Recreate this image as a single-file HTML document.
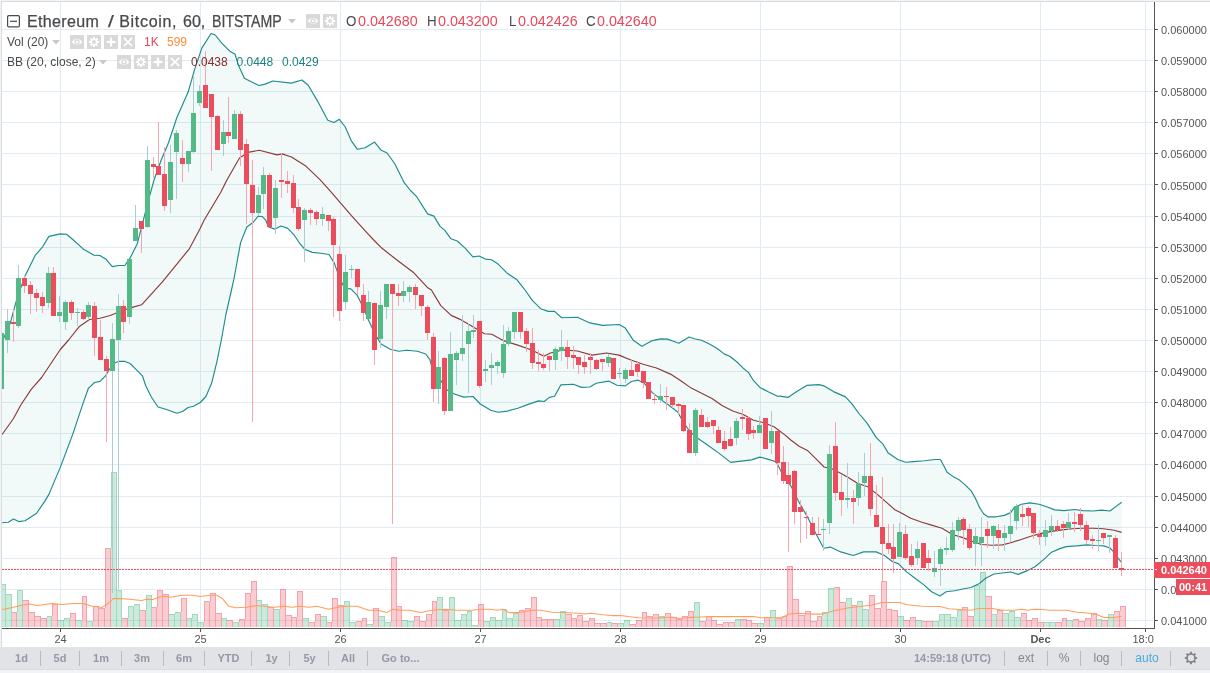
<!DOCTYPE html>
<html><head><meta charset="utf-8"><title>Ethereum / Bitcoin</title>
<style>
html,body{margin:0;padding:0;background:#fff;}
body{width:1210px;height:673px;position:relative;overflow:hidden;font-family:"Liberation Sans",Arial,sans-serif;}
.t{position:absolute;white-space:nowrap;line-height:1;}
.bar{position:absolute;left:0;top:647px;width:1210px;height:22px;background:#e2e3e6;border-bottom:1px solid #d9dce0;}
.bb{position:absolute;left:0;top:670px;width:1210px;height:3px;background:#f1f3f7;}
.btn{position:absolute;top:652px;font-size:11px;font-weight:bold;color:#9797a6;white-space:nowrap;line-height:13px;}
.rg{font-size:12px;font-weight:normal;color:#84848f;top:652px;}
.sep{position:absolute;top:651px;width:1px;height:15px;background:#b9bac2;}
</style></head><body>

<svg width="1210" height="673" viewBox="0 0 1210 673" style="position:absolute;left:0;top:0">
<g shape-rendering="crispEdges" stroke="#e1ecf2" stroke-width="1">
<line x1="2" x2="1153" y1="29.5" y2="29.5"/>
<line x1="2" x2="1153" y1="60.5" y2="60.5"/>
<line x1="2" x2="1153" y1="91.5" y2="91.5"/>
<line x1="2" x2="1153" y1="122.5" y2="122.5"/>
<line x1="2" x2="1153" y1="153.5" y2="153.5"/>
<line x1="2" x2="1153" y1="184.5" y2="184.5"/>
<line x1="2" x2="1153" y1="216.5" y2="216.5"/>
<line x1="2" x2="1153" y1="247.5" y2="247.5"/>
<line x1="2" x2="1153" y1="278.5" y2="278.5"/>
<line x1="2" x2="1153" y1="309.5" y2="309.5"/>
<line x1="2" x2="1153" y1="340.5" y2="340.5"/>
<line x1="2" x2="1153" y1="371.5" y2="371.5"/>
<line x1="2" x2="1153" y1="402.5" y2="402.5"/>
<line x1="2" x2="1153" y1="433.5" y2="433.5"/>
<line x1="2" x2="1153" y1="464.5" y2="464.5"/>
<line x1="2" x2="1153" y1="496.5" y2="496.5"/>
<line x1="2" x2="1153" y1="527.5" y2="527.5"/>
<line x1="2" x2="1153" y1="558.5" y2="558.5"/>
<line x1="2" x2="1153" y1="589.5" y2="589.5"/>
<line x1="2" x2="1153" y1="620.5" y2="620.5"/>
<line x1="60.5" x2="60.5" y1="2" y2="627"/>
<line x1="200.5" x2="200.5" y1="2" y2="627"/>
<line x1="340.5" x2="340.5" y1="2" y2="627"/>
<line x1="480.5" x2="480.5" y1="2" y2="627"/>
<line x1="620.5" x2="620.5" y1="2" y2="627"/>
<line x1="760.5" x2="760.5" y1="2" y2="627"/>
<line x1="900.5" x2="900.5" y1="2" y2="627"/>
<line x1="1040.5" x2="1040.5" y1="2" y2="627"/>
<line x1="1145.5" x2="1145.5" y1="2" y2="627"/>
</g>
<polygon points="2.0,342.0 10.4,322.7 16.6,299.9 25.0,275.9 35.4,255.1 42.6,246.8 48.9,236.4 60.3,233.9 66.6,234.3 72.8,239.5 83.2,248.9 93.6,255.1 99.9,255.5 106.1,259.3 112.3,266.6 118.6,265.5 124.8,265.5 130.0,258.2 137.3,243.7 148.3,200.8 154.0,180.0 161.2,160.0 168.5,142.7 176.8,117.8 188.2,91.8 194.5,69.9 201.8,48.1 211.1,33.5 215.3,35.0 221.5,42.9 229.9,51.2 235.1,54.3 238.2,64.7 244.4,78.2 252.7,82.4 259.0,85.5 265.2,84.1 272.8,81.0 291.5,83.1 301.9,80.0 308.2,85.2 318.6,102.9 327.8,120.3 334.0,122.5 339.3,119.3 345.0,126.5 351.2,140.6 357.4,149.3 365.2,147.7 374.6,142.1 380.8,149.9 387.1,153.0 394.9,164.0 404.2,182.7 410.5,190.5 416.7,196.7 427.6,213.9 433.9,216.1 440.1,226.4 444.8,230.4 451.0,238.8 457.3,241.0 465.1,248.2 472.9,256.9 479.1,256.0 485.4,259.1 491.6,259.8 497.8,263.8 507.2,273.2 516.6,279.4 522.8,287.2 525.0,290.0 532.3,300.4 540.7,308.7 548.3,311.4 554.6,311.4 561.8,317.7 577.4,317.3 589.9,322.9 602.4,325.4 619.0,324.5 625.3,328.1 633.6,340.6 641.9,346.2 652.3,340.6 660.7,338.9 667.3,339.1 673.5,341.2 678.7,343.3 683.9,340.2 689.1,337.0 694.3,338.7 701.6,340.2 708.9,343.7 717.2,348.5 724.5,354.1 729.7,356.2 737.0,362.0 743.2,368.2 748.4,372.4 753.6,380.7 759.9,387.4 768.2,391.8 777.5,396.3 780.0,396.1 788.0,397.4 796.0,392.1 806.7,385.4 818.8,384.6 824.1,385.9 833.5,391.6 845.5,396.9 852.2,404.1 858.9,413.5 866.9,422.9 876.3,437.6 883.0,444.2 888.3,453.1 897.7,459.5 905.7,462.2 913.7,461.6 924.4,460.8 935.1,459.5 940.5,459.5 947.2,472.3 953.9,477.1 958.6,479.4 964.9,484.6 971.1,490.8 975.3,498.1 979.5,507.4 983.6,513.7 987.8,516.8 996.1,516.8 1004.4,515.4 1010.7,512.6 1014.2,507.4 1021.4,504.3 1029.8,502.9 1039.1,504.3 1047.4,507.0 1054.7,509.9 1064.1,510.6 1074.5,509.5 1082.8,510.6 1093.2,511.0 1101.5,510.1 1109.9,511.0 1116.1,506.4 1121.7,502.2 1121.7,562.6 1118.2,558.4 1114.0,552.2 1109.9,548.0 1103.6,545.9 1095.3,545.5 1087.0,544.9 1076.6,545.9 1066.2,546.6 1059.9,548.6 1051.6,552.2 1043.3,559.9 1035.0,566.7 1026.6,570.9 1018.3,574.4 1010.7,572.0 1002.3,573.0 994.0,574.0 985.7,578.2 979.5,583.4 971.1,587.5 962.8,589.0 954.5,590.7 946.2,591.7 939.9,595.9 931.6,591.7 923.3,584.4 915.0,578.2 906.6,571.9 898.3,563.6 892.7,561.7 884.4,555.5 876.1,551.9 863.6,551.9 853.2,555.5 840.7,551.9 830.3,547.1 823.7,548.2 815.8,533.6 807.4,517.0 799.1,502.4 790.8,485.8 782.5,474.3 776.2,461.8 768.2,459.4 759.9,457.1 751.5,459.9 743.2,460.9 730.7,462.4 718.2,452.6 707.8,445.3 697.4,438.0 689.1,430.7 682.9,421.4 677.7,412.0 668.3,404.7 662.7,400.9 652.3,392.6 644.0,383.2 637.8,380.1 631.5,381.5 625.3,385.9 617.0,385.3 608.6,381.1 596.2,383.2 589.9,387.0 581.6,387.4 573.3,384.3 560.8,384.9 554.6,396.3 549.4,397.4 544.2,401.5 538.6,400.9 528.2,404.4 517.8,408.2 507.4,411.1 498.0,412.3 490.7,410.2 480.3,404.0 473.0,396.5 463.7,397.1 454.3,394.0 447.0,389.9 438.7,377.4 431.4,365.3 429.9,359.6 425.7,354.0 417.4,351.3 407.0,350.3 398.6,351.3 390.3,349.2 381.0,344.0 374.7,333.6 368.5,320.1 363.3,307.6 357.0,295.1 350.8,288.9 344.6,288.3 339.4,277.4 334.2,262.9 329.0,254.5 320.7,253.3 312.3,252.4 305.1,249.5 299.9,243.7 293.6,234.3 287.4,228.1 281.1,226.0 274.9,229.1 268.6,227.0 265.5,219.8 262.4,216.6 258.2,216.2 253.0,222.5 246.8,227.0 240.6,242.6 234.3,277.0 231.5,290.0 225.9,314.5 221.5,339.0 217.0,361.3 211.5,383.6 205.9,396.5 200.3,402.5 193.6,406.3 188.1,407.5 182.5,411.5 176.9,413.2 165.8,409.2 158.0,407.0 151.3,397.0 145.7,385.8 142.4,375.8 135.7,369.1 130.1,363.5 124.5,361.3 119.0,361.3 113.4,363.5 108.9,370.2 105.6,375.8 100.0,381.4 94.5,382.5 90.0,386.9 88.4,388.3 83.2,402.9 72.8,434.1 60.3,467.4 48.9,494.4 44.7,501.4 36.4,513.5 25.0,520.8 18.7,521.6 13.5,519.1 8.3,522.2 2.1,522.7" fill="rgba(0,128,128,0.05)"/>
<g shape-rendering="crispEdges">
<rect x="2" y="584" width="4" height="1" fill="rgba(83,185,135,0.55)"/>
<rect x="5" y="585" width="1" height="42" fill="rgba(83,185,135,0.55)"/>
<rect x="2" y="585" width="3" height="42" fill="rgba(83,185,135,0.30)"/>
<rect x="6" y="594" width="6" height="1" fill="rgba(83,185,135,0.55)"/>
<rect x="11" y="595" width="1" height="32" fill="rgba(83,185,135,0.55)"/>
<rect x="6" y="595" width="5" height="32" fill="rgba(83,185,135,0.30)"/>
<rect x="12" y="612" width="5" height="1" fill="rgba(235,77,92,0.52)"/>
<rect x="16" y="613" width="1" height="14" fill="rgba(235,77,92,0.52)"/>
<rect x="12" y="613" width="4" height="14" fill="rgba(235,77,92,0.28)"/>
<rect x="17" y="590" width="6" height="1" fill="rgba(83,185,135,0.55)"/>
<rect x="22" y="591" width="1" height="36" fill="rgba(83,185,135,0.55)"/>
<rect x="17" y="591" width="1" height="21" fill="rgba(83,185,135,0.55)"/>
<rect x="18" y="591" width="4" height="36" fill="rgba(83,185,135,0.30)"/>
<rect x="17" y="612" width="1" height="15" fill="rgba(83,185,135,0.30)"/>
<rect x="23" y="600" width="6" height="1" fill="rgba(235,77,92,0.52)"/>
<rect x="28" y="601" width="1" height="26" fill="rgba(235,77,92,0.52)"/>
<rect x="23" y="601" width="5" height="26" fill="rgba(235,77,92,0.28)"/>
<rect x="29" y="612" width="6" height="1" fill="rgba(235,77,92,0.52)"/>
<rect x="34" y="613" width="1" height="14" fill="rgba(235,77,92,0.52)"/>
<rect x="29" y="613" width="5" height="14" fill="rgba(235,77,92,0.28)"/>
<rect x="35" y="616" width="6" height="1" fill="rgba(235,77,92,0.52)"/>
<rect x="40" y="617" width="1" height="10" fill="rgba(235,77,92,0.52)"/>
<rect x="35" y="617" width="5" height="10" fill="rgba(235,77,92,0.28)"/>
<rect x="41" y="618" width="6" height="1" fill="rgba(235,77,92,0.52)"/>
<rect x="46" y="619" width="1" height="8" fill="rgba(235,77,92,0.52)"/>
<rect x="41" y="619" width="5" height="8" fill="rgba(235,77,92,0.28)"/>
<rect x="47" y="616" width="5" height="1" fill="rgba(83,185,135,0.55)"/>
<rect x="51" y="617" width="1" height="10" fill="rgba(83,185,135,0.55)"/>
<rect x="47" y="617" width="1" height="1" fill="rgba(83,185,135,0.55)"/>
<rect x="48" y="617" width="3" height="10" fill="rgba(83,185,135,0.30)"/>
<rect x="47" y="618" width="1" height="9" fill="rgba(83,185,135,0.30)"/>
<rect x="52" y="604" width="6" height="1" fill="rgba(235,77,92,0.52)"/>
<rect x="57" y="605" width="1" height="22" fill="rgba(235,77,92,0.52)"/>
<rect x="52" y="605" width="1" height="11" fill="rgba(235,77,92,0.52)"/>
<rect x="53" y="605" width="4" height="22" fill="rgba(235,77,92,0.28)"/>
<rect x="52" y="616" width="1" height="11" fill="rgba(235,77,92,0.28)"/>
<rect x="58" y="620" width="6" height="1" fill="rgba(83,185,135,0.55)"/>
<rect x="63" y="621" width="1" height="6" fill="rgba(83,185,135,0.55)"/>
<rect x="58" y="621" width="5" height="6" fill="rgba(83,185,135,0.30)"/>
<rect x="64" y="618" width="6" height="1" fill="rgba(83,185,135,0.55)"/>
<rect x="69" y="619" width="1" height="8" fill="rgba(83,185,135,0.55)"/>
<rect x="64" y="619" width="1" height="1" fill="rgba(83,185,135,0.55)"/>
<rect x="65" y="619" width="4" height="8" fill="rgba(83,185,135,0.30)"/>
<rect x="64" y="620" width="1" height="7" fill="rgba(83,185,135,0.30)"/>
<rect x="70" y="613" width="6" height="1" fill="rgba(235,77,92,0.52)"/>
<rect x="75" y="614" width="1" height="13" fill="rgba(235,77,92,0.52)"/>
<rect x="70" y="614" width="1" height="4" fill="rgba(235,77,92,0.52)"/>
<rect x="71" y="614" width="4" height="13" fill="rgba(235,77,92,0.28)"/>
<rect x="70" y="618" width="1" height="9" fill="rgba(235,77,92,0.28)"/>
<rect x="76" y="620" width="6" height="1" fill="rgba(83,185,135,0.55)"/>
<rect x="81" y="621" width="1" height="6" fill="rgba(83,185,135,0.55)"/>
<rect x="76" y="621" width="5" height="6" fill="rgba(83,185,135,0.30)"/>
<rect x="82" y="596" width="5" height="1" fill="rgba(235,77,92,0.52)"/>
<rect x="86" y="597" width="1" height="30" fill="rgba(235,77,92,0.52)"/>
<rect x="82" y="597" width="1" height="23" fill="rgba(235,77,92,0.52)"/>
<rect x="83" y="597" width="3" height="30" fill="rgba(235,77,92,0.28)"/>
<rect x="82" y="620" width="1" height="7" fill="rgba(235,77,92,0.28)"/>
<rect x="87" y="621" width="6" height="1" fill="rgba(83,185,135,0.55)"/>
<rect x="92" y="622" width="1" height="5" fill="rgba(83,185,135,0.55)"/>
<rect x="87" y="622" width="5" height="5" fill="rgba(83,185,135,0.30)"/>
<rect x="93" y="606" width="6" height="1" fill="rgba(235,77,92,0.52)"/>
<rect x="98" y="607" width="1" height="20" fill="rgba(235,77,92,0.52)"/>
<rect x="93" y="607" width="1" height="14" fill="rgba(235,77,92,0.52)"/>
<rect x="94" y="607" width="4" height="20" fill="rgba(235,77,92,0.28)"/>
<rect x="93" y="621" width="1" height="6" fill="rgba(235,77,92,0.28)"/>
<rect x="99" y="608" width="6" height="1" fill="rgba(235,77,92,0.52)"/>
<rect x="104" y="609" width="1" height="18" fill="rgba(235,77,92,0.52)"/>
<rect x="99" y="609" width="5" height="18" fill="rgba(235,77,92,0.28)"/>
<rect x="105" y="548" width="6" height="1" fill="rgba(235,77,92,0.52)"/>
<rect x="110" y="549" width="1" height="78" fill="rgba(235,77,92,0.52)"/>
<rect x="105" y="549" width="1" height="59" fill="rgba(235,77,92,0.52)"/>
<rect x="106" y="549" width="4" height="78" fill="rgba(235,77,92,0.28)"/>
<rect x="105" y="608" width="1" height="19" fill="rgba(235,77,92,0.28)"/>
<rect x="111" y="472" width="6" height="1" fill="rgba(83,185,135,0.55)"/>
<rect x="116" y="473" width="1" height="154" fill="rgba(83,185,135,0.55)"/>
<rect x="111" y="473" width="1" height="75" fill="rgba(83,185,135,0.55)"/>
<rect x="112" y="473" width="4" height="154" fill="rgba(83,185,135,0.30)"/>
<rect x="111" y="548" width="1" height="79" fill="rgba(83,185,135,0.30)"/>
<rect x="117" y="590" width="5" height="1" fill="rgba(83,185,135,0.55)"/>
<rect x="121" y="591" width="1" height="36" fill="rgba(83,185,135,0.55)"/>
<rect x="117" y="591" width="4" height="36" fill="rgba(83,185,135,0.30)"/>
<rect x="122" y="618" width="6" height="1" fill="rgba(235,77,92,0.52)"/>
<rect x="127" y="619" width="1" height="8" fill="rgba(235,77,92,0.52)"/>
<rect x="122" y="619" width="5" height="8" fill="rgba(235,77,92,0.28)"/>
<rect x="128" y="606" width="6" height="1" fill="rgba(83,185,135,0.55)"/>
<rect x="133" y="607" width="1" height="20" fill="rgba(83,185,135,0.55)"/>
<rect x="128" y="607" width="1" height="11" fill="rgba(83,185,135,0.55)"/>
<rect x="129" y="607" width="4" height="20" fill="rgba(83,185,135,0.30)"/>
<rect x="128" y="618" width="1" height="9" fill="rgba(83,185,135,0.30)"/>
<rect x="134" y="604" width="6" height="1" fill="rgba(83,185,135,0.55)"/>
<rect x="139" y="605" width="1" height="22" fill="rgba(83,185,135,0.55)"/>
<rect x="134" y="605" width="1" height="1" fill="rgba(83,185,135,0.55)"/>
<rect x="135" y="605" width="4" height="22" fill="rgba(83,185,135,0.30)"/>
<rect x="134" y="606" width="1" height="21" fill="rgba(83,185,135,0.30)"/>
<rect x="140" y="610" width="6" height="1" fill="rgba(235,77,92,0.52)"/>
<rect x="145" y="611" width="1" height="16" fill="rgba(235,77,92,0.52)"/>
<rect x="140" y="611" width="5" height="16" fill="rgba(235,77,92,0.28)"/>
<rect x="146" y="595" width="6" height="1" fill="rgba(83,185,135,0.55)"/>
<rect x="151" y="596" width="1" height="31" fill="rgba(83,185,135,0.55)"/>
<rect x="146" y="596" width="1" height="14" fill="rgba(83,185,135,0.55)"/>
<rect x="147" y="596" width="4" height="31" fill="rgba(83,185,135,0.30)"/>
<rect x="146" y="610" width="1" height="17" fill="rgba(83,185,135,0.30)"/>
<rect x="152" y="607" width="5" height="1" fill="rgba(235,77,92,0.52)"/>
<rect x="156" y="608" width="1" height="19" fill="rgba(235,77,92,0.52)"/>
<rect x="152" y="608" width="4" height="19" fill="rgba(235,77,92,0.28)"/>
<rect x="157" y="590" width="6" height="1" fill="rgba(235,77,92,0.52)"/>
<rect x="162" y="591" width="1" height="36" fill="rgba(235,77,92,0.52)"/>
<rect x="157" y="591" width="1" height="16" fill="rgba(235,77,92,0.52)"/>
<rect x="158" y="591" width="4" height="36" fill="rgba(235,77,92,0.28)"/>
<rect x="157" y="607" width="1" height="20" fill="rgba(235,77,92,0.28)"/>
<rect x="163" y="594" width="6" height="1" fill="rgba(235,77,92,0.52)"/>
<rect x="168" y="595" width="1" height="32" fill="rgba(235,77,92,0.52)"/>
<rect x="163" y="595" width="5" height="32" fill="rgba(235,77,92,0.28)"/>
<rect x="169" y="614" width="6" height="1" fill="rgba(83,185,135,0.55)"/>
<rect x="174" y="615" width="1" height="12" fill="rgba(83,185,135,0.55)"/>
<rect x="169" y="615" width="5" height="12" fill="rgba(83,185,135,0.30)"/>
<rect x="175" y="612" width="6" height="1" fill="rgba(83,185,135,0.55)"/>
<rect x="180" y="613" width="1" height="14" fill="rgba(83,185,135,0.55)"/>
<rect x="175" y="613" width="1" height="1" fill="rgba(83,185,135,0.55)"/>
<rect x="176" y="613" width="4" height="14" fill="rgba(83,185,135,0.30)"/>
<rect x="175" y="614" width="1" height="13" fill="rgba(83,185,135,0.30)"/>
<rect x="181" y="598" width="6" height="1" fill="rgba(235,77,92,0.52)"/>
<rect x="186" y="599" width="1" height="28" fill="rgba(235,77,92,0.52)"/>
<rect x="181" y="599" width="1" height="13" fill="rgba(235,77,92,0.52)"/>
<rect x="182" y="599" width="4" height="28" fill="rgba(235,77,92,0.28)"/>
<rect x="181" y="612" width="1" height="15" fill="rgba(235,77,92,0.28)"/>
<rect x="187" y="618" width="5" height="1" fill="rgba(83,185,135,0.55)"/>
<rect x="191" y="619" width="1" height="8" fill="rgba(83,185,135,0.55)"/>
<rect x="187" y="619" width="4" height="8" fill="rgba(83,185,135,0.30)"/>
<rect x="192" y="614" width="6" height="1" fill="rgba(83,185,135,0.55)"/>
<rect x="197" y="615" width="1" height="12" fill="rgba(83,185,135,0.55)"/>
<rect x="192" y="615" width="1" height="3" fill="rgba(83,185,135,0.55)"/>
<rect x="193" y="615" width="4" height="12" fill="rgba(83,185,135,0.30)"/>
<rect x="192" y="618" width="1" height="9" fill="rgba(83,185,135,0.30)"/>
<rect x="198" y="622" width="6" height="1" fill="rgba(83,185,135,0.55)"/>
<rect x="203" y="623" width="1" height="4" fill="rgba(83,185,135,0.55)"/>
<rect x="198" y="623" width="5" height="4" fill="rgba(83,185,135,0.30)"/>
<rect x="204" y="601" width="6" height="1" fill="rgba(235,77,92,0.52)"/>
<rect x="209" y="602" width="1" height="25" fill="rgba(235,77,92,0.52)"/>
<rect x="204" y="602" width="1" height="20" fill="rgba(235,77,92,0.52)"/>
<rect x="205" y="602" width="4" height="25" fill="rgba(235,77,92,0.28)"/>
<rect x="204" y="622" width="1" height="5" fill="rgba(235,77,92,0.28)"/>
<rect x="210" y="593" width="6" height="1" fill="rgba(235,77,92,0.52)"/>
<rect x="215" y="594" width="1" height="33" fill="rgba(235,77,92,0.52)"/>
<rect x="210" y="594" width="1" height="7" fill="rgba(235,77,92,0.52)"/>
<rect x="211" y="594" width="4" height="33" fill="rgba(235,77,92,0.28)"/>
<rect x="210" y="601" width="1" height="26" fill="rgba(235,77,92,0.28)"/>
<rect x="216" y="613" width="6" height="1" fill="rgba(235,77,92,0.52)"/>
<rect x="221" y="614" width="1" height="13" fill="rgba(235,77,92,0.52)"/>
<rect x="216" y="614" width="5" height="13" fill="rgba(235,77,92,0.28)"/>
<rect x="222" y="618" width="5" height="1" fill="rgba(83,185,135,0.55)"/>
<rect x="226" y="619" width="1" height="8" fill="rgba(83,185,135,0.55)"/>
<rect x="222" y="619" width="4" height="8" fill="rgba(83,185,135,0.30)"/>
<rect x="227" y="620" width="6" height="1" fill="rgba(235,77,92,0.52)"/>
<rect x="232" y="621" width="1" height="6" fill="rgba(235,77,92,0.52)"/>
<rect x="227" y="621" width="5" height="6" fill="rgba(235,77,92,0.28)"/>
<rect x="233" y="622" width="6" height="1" fill="rgba(83,185,135,0.55)"/>
<rect x="238" y="623" width="1" height="4" fill="rgba(83,185,135,0.55)"/>
<rect x="233" y="623" width="5" height="4" fill="rgba(83,185,135,0.30)"/>
<rect x="239" y="619" width="6" height="1" fill="rgba(235,77,92,0.52)"/>
<rect x="244" y="620" width="1" height="7" fill="rgba(235,77,92,0.52)"/>
<rect x="239" y="620" width="1" height="2" fill="rgba(235,77,92,0.52)"/>
<rect x="240" y="620" width="4" height="7" fill="rgba(235,77,92,0.28)"/>
<rect x="239" y="622" width="1" height="5" fill="rgba(235,77,92,0.28)"/>
<rect x="245" y="593" width="6" height="1" fill="rgba(235,77,92,0.52)"/>
<rect x="250" y="594" width="1" height="33" fill="rgba(235,77,92,0.52)"/>
<rect x="245" y="594" width="1" height="25" fill="rgba(235,77,92,0.52)"/>
<rect x="246" y="594" width="4" height="33" fill="rgba(235,77,92,0.28)"/>
<rect x="245" y="619" width="1" height="8" fill="rgba(235,77,92,0.28)"/>
<rect x="251" y="581" width="6" height="1" fill="rgba(235,77,92,0.52)"/>
<rect x="256" y="582" width="1" height="45" fill="rgba(235,77,92,0.52)"/>
<rect x="251" y="582" width="1" height="11" fill="rgba(235,77,92,0.52)"/>
<rect x="252" y="582" width="4" height="45" fill="rgba(235,77,92,0.28)"/>
<rect x="251" y="593" width="1" height="34" fill="rgba(235,77,92,0.28)"/>
<rect x="257" y="600" width="5" height="1" fill="rgba(83,185,135,0.55)"/>
<rect x="261" y="601" width="1" height="26" fill="rgba(83,185,135,0.55)"/>
<rect x="257" y="601" width="4" height="26" fill="rgba(83,185,135,0.30)"/>
<rect x="262" y="604" width="6" height="1" fill="rgba(83,185,135,0.55)"/>
<rect x="267" y="605" width="1" height="22" fill="rgba(83,185,135,0.55)"/>
<rect x="262" y="605" width="5" height="22" fill="rgba(83,185,135,0.30)"/>
<rect x="268" y="607" width="6" height="1" fill="rgba(235,77,92,0.52)"/>
<rect x="273" y="608" width="1" height="19" fill="rgba(235,77,92,0.52)"/>
<rect x="268" y="608" width="5" height="19" fill="rgba(235,77,92,0.28)"/>
<rect x="274" y="609" width="6" height="1" fill="rgba(83,185,135,0.55)"/>
<rect x="279" y="610" width="1" height="17" fill="rgba(83,185,135,0.55)"/>
<rect x="274" y="610" width="5" height="17" fill="rgba(83,185,135,0.30)"/>
<rect x="280" y="589" width="6" height="1" fill="rgba(235,77,92,0.52)"/>
<rect x="285" y="590" width="1" height="37" fill="rgba(235,77,92,0.52)"/>
<rect x="280" y="590" width="1" height="19" fill="rgba(235,77,92,0.52)"/>
<rect x="281" y="590" width="4" height="37" fill="rgba(235,77,92,0.28)"/>
<rect x="280" y="609" width="1" height="18" fill="rgba(235,77,92,0.28)"/>
<rect x="286" y="615" width="6" height="1" fill="rgba(235,77,92,0.52)"/>
<rect x="291" y="616" width="1" height="11" fill="rgba(235,77,92,0.52)"/>
<rect x="286" y="616" width="5" height="11" fill="rgba(235,77,92,0.28)"/>
<rect x="292" y="617" width="5" height="1" fill="rgba(235,77,92,0.52)"/>
<rect x="296" y="618" width="1" height="9" fill="rgba(235,77,92,0.52)"/>
<rect x="292" y="618" width="4" height="9" fill="rgba(235,77,92,0.28)"/>
<rect x="297" y="591" width="6" height="1" fill="rgba(235,77,92,0.52)"/>
<rect x="302" y="592" width="1" height="35" fill="rgba(235,77,92,0.52)"/>
<rect x="297" y="592" width="1" height="25" fill="rgba(235,77,92,0.52)"/>
<rect x="298" y="592" width="4" height="35" fill="rgba(235,77,92,0.28)"/>
<rect x="297" y="617" width="1" height="10" fill="rgba(235,77,92,0.28)"/>
<rect x="303" y="618" width="6" height="1" fill="rgba(83,185,135,0.55)"/>
<rect x="308" y="619" width="1" height="8" fill="rgba(83,185,135,0.55)"/>
<rect x="303" y="619" width="5" height="8" fill="rgba(83,185,135,0.30)"/>
<rect x="309" y="622" width="6" height="1" fill="rgba(235,77,92,0.52)"/>
<rect x="314" y="623" width="1" height="4" fill="rgba(235,77,92,0.52)"/>
<rect x="309" y="623" width="5" height="4" fill="rgba(235,77,92,0.28)"/>
<rect x="315" y="614" width="6" height="1" fill="rgba(235,77,92,0.52)"/>
<rect x="320" y="615" width="1" height="12" fill="rgba(235,77,92,0.52)"/>
<rect x="315" y="615" width="1" height="7" fill="rgba(235,77,92,0.52)"/>
<rect x="316" y="615" width="4" height="12" fill="rgba(235,77,92,0.28)"/>
<rect x="315" y="622" width="1" height="5" fill="rgba(235,77,92,0.28)"/>
<rect x="321" y="616" width="6" height="1" fill="rgba(83,185,135,0.55)"/>
<rect x="326" y="617" width="1" height="10" fill="rgba(83,185,135,0.55)"/>
<rect x="321" y="617" width="5" height="10" fill="rgba(83,185,135,0.30)"/>
<rect x="327" y="622" width="5" height="1" fill="rgba(235,77,92,0.52)"/>
<rect x="331" y="623" width="1" height="4" fill="rgba(235,77,92,0.52)"/>
<rect x="327" y="623" width="4" height="4" fill="rgba(235,77,92,0.28)"/>
<rect x="332" y="598" width="6" height="1" fill="rgba(235,77,92,0.52)"/>
<rect x="337" y="599" width="1" height="28" fill="rgba(235,77,92,0.52)"/>
<rect x="332" y="599" width="1" height="23" fill="rgba(235,77,92,0.52)"/>
<rect x="333" y="599" width="4" height="28" fill="rgba(235,77,92,0.28)"/>
<rect x="332" y="622" width="1" height="5" fill="rgba(235,77,92,0.28)"/>
<rect x="338" y="605" width="6" height="1" fill="rgba(235,77,92,0.52)"/>
<rect x="343" y="606" width="1" height="21" fill="rgba(235,77,92,0.52)"/>
<rect x="338" y="606" width="5" height="21" fill="rgba(235,77,92,0.28)"/>
<rect x="344" y="601" width="6" height="1" fill="rgba(83,185,135,0.55)"/>
<rect x="349" y="602" width="1" height="25" fill="rgba(83,185,135,0.55)"/>
<rect x="344" y="602" width="1" height="3" fill="rgba(83,185,135,0.55)"/>
<rect x="345" y="602" width="4" height="25" fill="rgba(83,185,135,0.30)"/>
<rect x="344" y="605" width="1" height="22" fill="rgba(83,185,135,0.30)"/>
<rect x="350" y="622" width="6" height="1" fill="rgba(83,185,135,0.55)"/>
<rect x="355" y="623" width="1" height="4" fill="rgba(83,185,135,0.55)"/>
<rect x="350" y="623" width="5" height="4" fill="rgba(83,185,135,0.30)"/>
<rect x="356" y="621" width="6" height="1" fill="rgba(235,77,92,0.52)"/>
<rect x="361" y="622" width="1" height="5" fill="rgba(235,77,92,0.52)"/>
<rect x="356" y="622" width="5" height="5" fill="rgba(235,77,92,0.28)"/>
<rect x="362" y="618" width="5" height="1" fill="rgba(235,77,92,0.52)"/>
<rect x="366" y="619" width="1" height="8" fill="rgba(235,77,92,0.52)"/>
<rect x="362" y="619" width="1" height="2" fill="rgba(235,77,92,0.52)"/>
<rect x="363" y="619" width="3" height="8" fill="rgba(235,77,92,0.28)"/>
<rect x="362" y="621" width="1" height="6" fill="rgba(235,77,92,0.28)"/>
<rect x="367" y="624" width="6" height="1" fill="rgba(83,185,135,0.55)"/>
<rect x="372" y="625" width="1" height="2" fill="rgba(83,185,135,0.55)"/>
<rect x="367" y="625" width="5" height="2" fill="rgba(83,185,135,0.30)"/>
<rect x="373" y="608" width="6" height="1" fill="rgba(235,77,92,0.52)"/>
<rect x="378" y="609" width="1" height="18" fill="rgba(235,77,92,0.52)"/>
<rect x="373" y="609" width="1" height="15" fill="rgba(235,77,92,0.52)"/>
<rect x="374" y="609" width="4" height="18" fill="rgba(235,77,92,0.28)"/>
<rect x="373" y="624" width="1" height="3" fill="rgba(235,77,92,0.28)"/>
<rect x="379" y="616" width="6" height="1" fill="rgba(83,185,135,0.55)"/>
<rect x="384" y="617" width="1" height="10" fill="rgba(83,185,135,0.55)"/>
<rect x="379" y="617" width="5" height="10" fill="rgba(83,185,135,0.30)"/>
<rect x="385" y="622" width="6" height="1" fill="rgba(83,185,135,0.55)"/>
<rect x="390" y="623" width="1" height="4" fill="rgba(83,185,135,0.55)"/>
<rect x="385" y="623" width="5" height="4" fill="rgba(83,185,135,0.30)"/>
<rect x="391" y="557" width="6" height="1" fill="rgba(235,77,92,0.52)"/>
<rect x="396" y="558" width="1" height="69" fill="rgba(235,77,92,0.52)"/>
<rect x="391" y="558" width="1" height="64" fill="rgba(235,77,92,0.52)"/>
<rect x="392" y="558" width="4" height="69" fill="rgba(235,77,92,0.28)"/>
<rect x="391" y="622" width="1" height="5" fill="rgba(235,77,92,0.28)"/>
<rect x="397" y="606" width="5" height="1" fill="rgba(235,77,92,0.52)"/>
<rect x="401" y="607" width="1" height="20" fill="rgba(235,77,92,0.52)"/>
<rect x="397" y="607" width="4" height="20" fill="rgba(235,77,92,0.28)"/>
<rect x="402" y="620" width="6" height="1" fill="rgba(83,185,135,0.55)"/>
<rect x="407" y="621" width="1" height="6" fill="rgba(83,185,135,0.55)"/>
<rect x="402" y="621" width="5" height="6" fill="rgba(83,185,135,0.30)"/>
<rect x="408" y="621" width="6" height="1" fill="rgba(83,185,135,0.55)"/>
<rect x="413" y="622" width="1" height="5" fill="rgba(83,185,135,0.55)"/>
<rect x="408" y="622" width="5" height="5" fill="rgba(83,185,135,0.30)"/>
<rect x="414" y="616" width="6" height="1" fill="rgba(235,77,92,0.52)"/>
<rect x="419" y="617" width="1" height="10" fill="rgba(235,77,92,0.52)"/>
<rect x="414" y="617" width="1" height="4" fill="rgba(235,77,92,0.52)"/>
<rect x="415" y="617" width="4" height="10" fill="rgba(235,77,92,0.28)"/>
<rect x="414" y="621" width="1" height="6" fill="rgba(235,77,92,0.28)"/>
<rect x="420" y="621" width="6" height="1" fill="rgba(235,77,92,0.52)"/>
<rect x="425" y="622" width="1" height="5" fill="rgba(235,77,92,0.52)"/>
<rect x="420" y="622" width="5" height="5" fill="rgba(235,77,92,0.28)"/>
<rect x="426" y="614" width="6" height="1" fill="rgba(235,77,92,0.52)"/>
<rect x="431" y="615" width="1" height="12" fill="rgba(235,77,92,0.52)"/>
<rect x="426" y="615" width="1" height="6" fill="rgba(235,77,92,0.52)"/>
<rect x="427" y="615" width="4" height="12" fill="rgba(235,77,92,0.28)"/>
<rect x="426" y="621" width="1" height="6" fill="rgba(235,77,92,0.28)"/>
<rect x="432" y="601" width="5" height="1" fill="rgba(235,77,92,0.52)"/>
<rect x="436" y="602" width="1" height="25" fill="rgba(235,77,92,0.52)"/>
<rect x="432" y="602" width="1" height="12" fill="rgba(235,77,92,0.52)"/>
<rect x="433" y="602" width="3" height="25" fill="rgba(235,77,92,0.28)"/>
<rect x="432" y="614" width="1" height="13" fill="rgba(235,77,92,0.28)"/>
<rect x="437" y="597" width="6" height="1" fill="rgba(83,185,135,0.55)"/>
<rect x="442" y="598" width="1" height="29" fill="rgba(83,185,135,0.55)"/>
<rect x="437" y="598" width="1" height="3" fill="rgba(83,185,135,0.55)"/>
<rect x="438" y="598" width="4" height="29" fill="rgba(83,185,135,0.30)"/>
<rect x="437" y="601" width="1" height="26" fill="rgba(83,185,135,0.30)"/>
<rect x="443" y="610" width="6" height="1" fill="rgba(235,77,92,0.52)"/>
<rect x="448" y="611" width="1" height="16" fill="rgba(235,77,92,0.52)"/>
<rect x="443" y="611" width="5" height="16" fill="rgba(235,77,92,0.28)"/>
<rect x="449" y="597" width="6" height="1" fill="rgba(83,185,135,0.55)"/>
<rect x="454" y="598" width="1" height="29" fill="rgba(83,185,135,0.55)"/>
<rect x="449" y="598" width="1" height="12" fill="rgba(83,185,135,0.55)"/>
<rect x="450" y="598" width="4" height="29" fill="rgba(83,185,135,0.30)"/>
<rect x="449" y="610" width="1" height="17" fill="rgba(83,185,135,0.30)"/>
<rect x="455" y="620" width="6" height="1" fill="rgba(83,185,135,0.55)"/>
<rect x="460" y="621" width="1" height="6" fill="rgba(83,185,135,0.55)"/>
<rect x="455" y="621" width="5" height="6" fill="rgba(83,185,135,0.30)"/>
<rect x="461" y="614" width="6" height="1" fill="rgba(83,185,135,0.55)"/>
<rect x="466" y="615" width="1" height="12" fill="rgba(83,185,135,0.55)"/>
<rect x="461" y="615" width="1" height="5" fill="rgba(83,185,135,0.55)"/>
<rect x="462" y="615" width="4" height="12" fill="rgba(83,185,135,0.30)"/>
<rect x="461" y="620" width="1" height="7" fill="rgba(83,185,135,0.30)"/>
<rect x="467" y="611" width="5" height="1" fill="rgba(83,185,135,0.55)"/>
<rect x="471" y="612" width="1" height="15" fill="rgba(83,185,135,0.55)"/>
<rect x="467" y="612" width="1" height="2" fill="rgba(83,185,135,0.55)"/>
<rect x="468" y="612" width="3" height="15" fill="rgba(83,185,135,0.30)"/>
<rect x="467" y="614" width="1" height="13" fill="rgba(83,185,135,0.30)"/>
<rect x="472" y="625" width="6" height="1" fill="rgba(83,185,135,0.55)"/>
<rect x="477" y="626" width="1" height="1" fill="rgba(83,185,135,0.55)"/>
<rect x="472" y="626" width="5" height="1" fill="rgba(83,185,135,0.30)"/>
<rect x="478" y="604" width="6" height="1" fill="rgba(235,77,92,0.52)"/>
<rect x="483" y="605" width="1" height="22" fill="rgba(235,77,92,0.52)"/>
<rect x="478" y="605" width="1" height="20" fill="rgba(235,77,92,0.52)"/>
<rect x="479" y="605" width="4" height="22" fill="rgba(235,77,92,0.28)"/>
<rect x="478" y="625" width="1" height="2" fill="rgba(235,77,92,0.28)"/>
<rect x="484" y="621" width="6" height="1" fill="rgba(83,185,135,0.55)"/>
<rect x="489" y="622" width="1" height="5" fill="rgba(83,185,135,0.55)"/>
<rect x="484" y="622" width="5" height="5" fill="rgba(83,185,135,0.30)"/>
<rect x="490" y="617" width="6" height="1" fill="rgba(83,185,135,0.55)"/>
<rect x="495" y="618" width="1" height="9" fill="rgba(83,185,135,0.55)"/>
<rect x="490" y="618" width="1" height="3" fill="rgba(83,185,135,0.55)"/>
<rect x="491" y="618" width="4" height="9" fill="rgba(83,185,135,0.30)"/>
<rect x="490" y="621" width="1" height="6" fill="rgba(83,185,135,0.30)"/>
<rect x="496" y="620" width="6" height="1" fill="rgba(83,185,135,0.55)"/>
<rect x="501" y="621" width="1" height="6" fill="rgba(83,185,135,0.55)"/>
<rect x="496" y="621" width="5" height="6" fill="rgba(83,185,135,0.30)"/>
<rect x="502" y="609" width="5" height="1" fill="rgba(83,185,135,0.55)"/>
<rect x="506" y="610" width="1" height="17" fill="rgba(83,185,135,0.55)"/>
<rect x="502" y="610" width="1" height="10" fill="rgba(83,185,135,0.55)"/>
<rect x="503" y="610" width="3" height="17" fill="rgba(83,185,135,0.30)"/>
<rect x="502" y="620" width="1" height="7" fill="rgba(83,185,135,0.30)"/>
<rect x="507" y="618" width="6" height="1" fill="rgba(83,185,135,0.55)"/>
<rect x="512" y="619" width="1" height="8" fill="rgba(83,185,135,0.55)"/>
<rect x="507" y="619" width="5" height="8" fill="rgba(83,185,135,0.30)"/>
<rect x="513" y="613" width="6" height="1" fill="rgba(83,185,135,0.55)"/>
<rect x="518" y="614" width="1" height="13" fill="rgba(83,185,135,0.55)"/>
<rect x="513" y="614" width="1" height="4" fill="rgba(83,185,135,0.55)"/>
<rect x="514" y="614" width="4" height="13" fill="rgba(83,185,135,0.30)"/>
<rect x="513" y="618" width="1" height="9" fill="rgba(83,185,135,0.30)"/>
<rect x="519" y="610" width="6" height="1" fill="rgba(235,77,92,0.52)"/>
<rect x="524" y="611" width="1" height="16" fill="rgba(235,77,92,0.52)"/>
<rect x="519" y="611" width="1" height="2" fill="rgba(235,77,92,0.52)"/>
<rect x="520" y="611" width="4" height="16" fill="rgba(235,77,92,0.28)"/>
<rect x="519" y="613" width="1" height="14" fill="rgba(235,77,92,0.28)"/>
<rect x="525" y="608" width="6" height="1" fill="rgba(235,77,92,0.52)"/>
<rect x="530" y="609" width="1" height="18" fill="rgba(235,77,92,0.52)"/>
<rect x="525" y="609" width="1" height="1" fill="rgba(235,77,92,0.52)"/>
<rect x="526" y="609" width="4" height="18" fill="rgba(235,77,92,0.28)"/>
<rect x="525" y="610" width="1" height="17" fill="rgba(235,77,92,0.28)"/>
<rect x="531" y="597" width="6" height="1" fill="rgba(235,77,92,0.52)"/>
<rect x="536" y="598" width="1" height="29" fill="rgba(235,77,92,0.52)"/>
<rect x="531" y="598" width="1" height="10" fill="rgba(235,77,92,0.52)"/>
<rect x="532" y="598" width="4" height="29" fill="rgba(235,77,92,0.28)"/>
<rect x="531" y="608" width="1" height="19" fill="rgba(235,77,92,0.28)"/>
<rect x="537" y="617" width="5" height="1" fill="rgba(235,77,92,0.52)"/>
<rect x="541" y="618" width="1" height="9" fill="rgba(235,77,92,0.52)"/>
<rect x="537" y="618" width="4" height="9" fill="rgba(235,77,92,0.28)"/>
<rect x="542" y="619" width="6" height="1" fill="rgba(235,77,92,0.52)"/>
<rect x="547" y="620" width="1" height="7" fill="rgba(235,77,92,0.52)"/>
<rect x="542" y="620" width="5" height="7" fill="rgba(235,77,92,0.28)"/>
<rect x="548" y="619" width="6" height="1" fill="rgba(235,77,92,0.52)"/>
<rect x="553" y="620" width="1" height="7" fill="rgba(235,77,92,0.52)"/>
<rect x="548" y="620" width="5" height="7" fill="rgba(235,77,92,0.28)"/>
<rect x="554" y="619" width="6" height="1" fill="rgba(83,185,135,0.55)"/>
<rect x="559" y="620" width="1" height="7" fill="rgba(83,185,135,0.55)"/>
<rect x="554" y="620" width="5" height="7" fill="rgba(83,185,135,0.30)"/>
<rect x="560" y="611" width="6" height="1" fill="rgba(83,185,135,0.55)"/>
<rect x="565" y="612" width="1" height="15" fill="rgba(83,185,135,0.55)"/>
<rect x="560" y="612" width="1" height="7" fill="rgba(83,185,135,0.55)"/>
<rect x="561" y="612" width="4" height="15" fill="rgba(83,185,135,0.30)"/>
<rect x="560" y="619" width="1" height="8" fill="rgba(83,185,135,0.30)"/>
<rect x="566" y="614" width="6" height="1" fill="rgba(235,77,92,0.52)"/>
<rect x="571" y="615" width="1" height="12" fill="rgba(235,77,92,0.52)"/>
<rect x="566" y="615" width="5" height="12" fill="rgba(235,77,92,0.28)"/>
<rect x="572" y="618" width="5" height="1" fill="rgba(235,77,92,0.52)"/>
<rect x="576" y="619" width="1" height="8" fill="rgba(235,77,92,0.52)"/>
<rect x="572" y="619" width="4" height="8" fill="rgba(235,77,92,0.28)"/>
<rect x="577" y="615" width="6" height="1" fill="rgba(235,77,92,0.52)"/>
<rect x="582" y="616" width="1" height="11" fill="rgba(235,77,92,0.52)"/>
<rect x="577" y="616" width="1" height="2" fill="rgba(235,77,92,0.52)"/>
<rect x="578" y="616" width="4" height="11" fill="rgba(235,77,92,0.28)"/>
<rect x="577" y="618" width="1" height="9" fill="rgba(235,77,92,0.28)"/>
<rect x="583" y="621" width="6" height="1" fill="rgba(235,77,92,0.52)"/>
<rect x="588" y="622" width="1" height="5" fill="rgba(235,77,92,0.52)"/>
<rect x="583" y="622" width="5" height="5" fill="rgba(235,77,92,0.28)"/>
<rect x="589" y="618" width="6" height="1" fill="rgba(235,77,92,0.52)"/>
<rect x="594" y="619" width="1" height="8" fill="rgba(235,77,92,0.52)"/>
<rect x="589" y="619" width="1" height="2" fill="rgba(235,77,92,0.52)"/>
<rect x="590" y="619" width="4" height="8" fill="rgba(235,77,92,0.28)"/>
<rect x="589" y="621" width="1" height="6" fill="rgba(235,77,92,0.28)"/>
<rect x="595" y="623" width="6" height="1" fill="rgba(235,77,92,0.52)"/>
<rect x="600" y="624" width="1" height="3" fill="rgba(235,77,92,0.52)"/>
<rect x="595" y="624" width="5" height="3" fill="rgba(235,77,92,0.28)"/>
<rect x="601" y="623" width="6" height="1" fill="rgba(235,77,92,0.52)"/>
<rect x="606" y="624" width="1" height="3" fill="rgba(235,77,92,0.52)"/>
<rect x="601" y="624" width="5" height="3" fill="rgba(235,77,92,0.28)"/>
<rect x="607" y="622" width="5" height="1" fill="rgba(83,185,135,0.55)"/>
<rect x="611" y="623" width="1" height="4" fill="rgba(83,185,135,0.55)"/>
<rect x="607" y="623" width="4" height="4" fill="rgba(83,185,135,0.30)"/>
<rect x="612" y="623" width="6" height="1" fill="rgba(235,77,92,0.52)"/>
<rect x="617" y="624" width="1" height="3" fill="rgba(235,77,92,0.52)"/>
<rect x="612" y="624" width="5" height="3" fill="rgba(235,77,92,0.28)"/>
<rect x="618" y="623" width="6" height="1" fill="rgba(83,185,135,0.55)"/>
<rect x="623" y="624" width="1" height="3" fill="rgba(83,185,135,0.55)"/>
<rect x="618" y="624" width="5" height="3" fill="rgba(83,185,135,0.30)"/>
<rect x="624" y="620" width="6" height="1" fill="rgba(83,185,135,0.55)"/>
<rect x="629" y="621" width="1" height="6" fill="rgba(83,185,135,0.55)"/>
<rect x="624" y="621" width="1" height="2" fill="rgba(83,185,135,0.55)"/>
<rect x="625" y="621" width="4" height="6" fill="rgba(83,185,135,0.30)"/>
<rect x="624" y="623" width="1" height="4" fill="rgba(83,185,135,0.30)"/>
<rect x="630" y="624" width="6" height="1" fill="rgba(235,77,92,0.52)"/>
<rect x="635" y="625" width="1" height="2" fill="rgba(235,77,92,0.52)"/>
<rect x="630" y="625" width="5" height="2" fill="rgba(235,77,92,0.28)"/>
<rect x="636" y="620" width="6" height="1" fill="rgba(235,77,92,0.52)"/>
<rect x="641" y="621" width="1" height="6" fill="rgba(235,77,92,0.52)"/>
<rect x="636" y="621" width="1" height="3" fill="rgba(235,77,92,0.52)"/>
<rect x="637" y="621" width="4" height="6" fill="rgba(235,77,92,0.28)"/>
<rect x="636" y="624" width="1" height="3" fill="rgba(235,77,92,0.28)"/>
<rect x="642" y="612" width="5" height="1" fill="rgba(235,77,92,0.52)"/>
<rect x="646" y="613" width="1" height="14" fill="rgba(235,77,92,0.52)"/>
<rect x="642" y="613" width="1" height="7" fill="rgba(235,77,92,0.52)"/>
<rect x="643" y="613" width="3" height="14" fill="rgba(235,77,92,0.28)"/>
<rect x="642" y="620" width="1" height="7" fill="rgba(235,77,92,0.28)"/>
<rect x="647" y="616" width="6" height="1" fill="rgba(235,77,92,0.52)"/>
<rect x="652" y="617" width="1" height="10" fill="rgba(235,77,92,0.52)"/>
<rect x="647" y="617" width="5" height="10" fill="rgba(235,77,92,0.28)"/>
<rect x="653" y="614" width="6" height="1" fill="rgba(235,77,92,0.52)"/>
<rect x="658" y="615" width="1" height="12" fill="rgba(235,77,92,0.52)"/>
<rect x="653" y="615" width="1" height="1" fill="rgba(235,77,92,0.52)"/>
<rect x="654" y="615" width="4" height="12" fill="rgba(235,77,92,0.28)"/>
<rect x="653" y="616" width="1" height="11" fill="rgba(235,77,92,0.28)"/>
<rect x="659" y="616" width="6" height="1" fill="rgba(83,185,135,0.55)"/>
<rect x="664" y="617" width="1" height="10" fill="rgba(83,185,135,0.55)"/>
<rect x="659" y="617" width="5" height="10" fill="rgba(83,185,135,0.30)"/>
<rect x="665" y="613" width="6" height="1" fill="rgba(235,77,92,0.52)"/>
<rect x="670" y="614" width="1" height="13" fill="rgba(235,77,92,0.52)"/>
<rect x="665" y="614" width="1" height="2" fill="rgba(235,77,92,0.52)"/>
<rect x="666" y="614" width="4" height="13" fill="rgba(235,77,92,0.28)"/>
<rect x="665" y="616" width="1" height="11" fill="rgba(235,77,92,0.28)"/>
<rect x="671" y="617" width="6" height="1" fill="rgba(235,77,92,0.52)"/>
<rect x="676" y="618" width="1" height="9" fill="rgba(235,77,92,0.52)"/>
<rect x="671" y="618" width="5" height="9" fill="rgba(235,77,92,0.28)"/>
<rect x="677" y="619" width="5" height="1" fill="rgba(235,77,92,0.52)"/>
<rect x="681" y="620" width="1" height="7" fill="rgba(235,77,92,0.52)"/>
<rect x="677" y="620" width="4" height="7" fill="rgba(235,77,92,0.28)"/>
<rect x="682" y="616" width="6" height="1" fill="rgba(235,77,92,0.52)"/>
<rect x="687" y="617" width="1" height="10" fill="rgba(235,77,92,0.52)"/>
<rect x="682" y="617" width="1" height="2" fill="rgba(235,77,92,0.52)"/>
<rect x="683" y="617" width="4" height="10" fill="rgba(235,77,92,0.28)"/>
<rect x="682" y="619" width="1" height="8" fill="rgba(235,77,92,0.28)"/>
<rect x="688" y="611" width="6" height="1" fill="rgba(235,77,92,0.52)"/>
<rect x="693" y="612" width="1" height="15" fill="rgba(235,77,92,0.52)"/>
<rect x="688" y="612" width="1" height="4" fill="rgba(235,77,92,0.52)"/>
<rect x="689" y="612" width="4" height="15" fill="rgba(235,77,92,0.28)"/>
<rect x="688" y="616" width="1" height="11" fill="rgba(235,77,92,0.28)"/>
<rect x="694" y="602" width="6" height="1" fill="rgba(83,185,135,0.55)"/>
<rect x="699" y="603" width="1" height="24" fill="rgba(83,185,135,0.55)"/>
<rect x="694" y="603" width="1" height="8" fill="rgba(83,185,135,0.55)"/>
<rect x="695" y="603" width="4" height="24" fill="rgba(83,185,135,0.30)"/>
<rect x="694" y="611" width="1" height="16" fill="rgba(83,185,135,0.30)"/>
<rect x="700" y="621" width="6" height="1" fill="rgba(235,77,92,0.52)"/>
<rect x="705" y="622" width="1" height="5" fill="rgba(235,77,92,0.52)"/>
<rect x="700" y="622" width="5" height="5" fill="rgba(235,77,92,0.28)"/>
<rect x="706" y="616" width="6" height="1" fill="rgba(235,77,92,0.52)"/>
<rect x="711" y="617" width="1" height="10" fill="rgba(235,77,92,0.52)"/>
<rect x="706" y="617" width="1" height="4" fill="rgba(235,77,92,0.52)"/>
<rect x="707" y="617" width="4" height="10" fill="rgba(235,77,92,0.28)"/>
<rect x="706" y="621" width="1" height="6" fill="rgba(235,77,92,0.28)"/>
<rect x="712" y="620" width="5" height="1" fill="rgba(235,77,92,0.52)"/>
<rect x="716" y="621" width="1" height="6" fill="rgba(235,77,92,0.52)"/>
<rect x="712" y="621" width="4" height="6" fill="rgba(235,77,92,0.28)"/>
<rect x="717" y="624" width="6" height="1" fill="rgba(235,77,92,0.52)"/>
<rect x="722" y="625" width="1" height="2" fill="rgba(235,77,92,0.52)"/>
<rect x="717" y="625" width="5" height="2" fill="rgba(235,77,92,0.28)"/>
<rect x="723" y="622" width="6" height="1" fill="rgba(235,77,92,0.52)"/>
<rect x="728" y="623" width="1" height="4" fill="rgba(235,77,92,0.52)"/>
<rect x="723" y="623" width="1" height="1" fill="rgba(235,77,92,0.52)"/>
<rect x="724" y="623" width="4" height="4" fill="rgba(235,77,92,0.28)"/>
<rect x="723" y="624" width="1" height="3" fill="rgba(235,77,92,0.28)"/>
<rect x="729" y="622" width="6" height="1" fill="rgba(235,77,92,0.52)"/>
<rect x="734" y="623" width="1" height="4" fill="rgba(235,77,92,0.52)"/>
<rect x="729" y="623" width="5" height="4" fill="rgba(235,77,92,0.28)"/>
<rect x="735" y="619" width="6" height="1" fill="rgba(83,185,135,0.55)"/>
<rect x="740" y="620" width="1" height="7" fill="rgba(83,185,135,0.55)"/>
<rect x="735" y="620" width="1" height="2" fill="rgba(83,185,135,0.55)"/>
<rect x="736" y="620" width="4" height="7" fill="rgba(83,185,135,0.30)"/>
<rect x="735" y="622" width="1" height="5" fill="rgba(83,185,135,0.30)"/>
<rect x="741" y="619" width="6" height="1" fill="rgba(235,77,92,0.52)"/>
<rect x="746" y="620" width="1" height="7" fill="rgba(235,77,92,0.52)"/>
<rect x="741" y="620" width="5" height="7" fill="rgba(235,77,92,0.28)"/>
<rect x="747" y="620" width="5" height="1" fill="rgba(235,77,92,0.52)"/>
<rect x="751" y="621" width="1" height="6" fill="rgba(235,77,92,0.52)"/>
<rect x="747" y="621" width="4" height="6" fill="rgba(235,77,92,0.28)"/>
<rect x="752" y="623" width="6" height="1" fill="rgba(235,77,92,0.52)"/>
<rect x="757" y="624" width="1" height="3" fill="rgba(235,77,92,0.52)"/>
<rect x="752" y="624" width="5" height="3" fill="rgba(235,77,92,0.28)"/>
<rect x="758" y="623" width="6" height="1" fill="rgba(83,185,135,0.55)"/>
<rect x="763" y="624" width="1" height="3" fill="rgba(83,185,135,0.55)"/>
<rect x="758" y="624" width="5" height="3" fill="rgba(83,185,135,0.30)"/>
<rect x="764" y="617" width="6" height="1" fill="rgba(235,77,92,0.52)"/>
<rect x="769" y="618" width="1" height="9" fill="rgba(235,77,92,0.52)"/>
<rect x="764" y="618" width="1" height="5" fill="rgba(235,77,92,0.52)"/>
<rect x="765" y="618" width="4" height="9" fill="rgba(235,77,92,0.28)"/>
<rect x="764" y="623" width="1" height="4" fill="rgba(235,77,92,0.28)"/>
<rect x="770" y="610" width="6" height="1" fill="rgba(83,185,135,0.55)"/>
<rect x="775" y="611" width="1" height="16" fill="rgba(83,185,135,0.55)"/>
<rect x="770" y="611" width="1" height="6" fill="rgba(83,185,135,0.55)"/>
<rect x="771" y="611" width="4" height="16" fill="rgba(83,185,135,0.30)"/>
<rect x="770" y="617" width="1" height="10" fill="rgba(83,185,135,0.30)"/>
<rect x="776" y="618" width="6" height="1" fill="rgba(235,77,92,0.52)"/>
<rect x="781" y="619" width="1" height="8" fill="rgba(235,77,92,0.52)"/>
<rect x="776" y="619" width="5" height="8" fill="rgba(235,77,92,0.28)"/>
<rect x="782" y="616" width="5" height="1" fill="rgba(235,77,92,0.52)"/>
<rect x="786" y="617" width="1" height="10" fill="rgba(235,77,92,0.52)"/>
<rect x="782" y="617" width="1" height="1" fill="rgba(235,77,92,0.52)"/>
<rect x="783" y="617" width="3" height="10" fill="rgba(235,77,92,0.28)"/>
<rect x="782" y="618" width="1" height="9" fill="rgba(235,77,92,0.28)"/>
<rect x="787" y="566" width="6" height="1" fill="rgba(235,77,92,0.52)"/>
<rect x="792" y="567" width="1" height="60" fill="rgba(235,77,92,0.52)"/>
<rect x="787" y="567" width="1" height="49" fill="rgba(235,77,92,0.52)"/>
<rect x="788" y="567" width="4" height="60" fill="rgba(235,77,92,0.28)"/>
<rect x="787" y="616" width="1" height="11" fill="rgba(235,77,92,0.28)"/>
<rect x="793" y="599" width="6" height="1" fill="rgba(235,77,92,0.52)"/>
<rect x="798" y="600" width="1" height="27" fill="rgba(235,77,92,0.52)"/>
<rect x="793" y="600" width="5" height="27" fill="rgba(235,77,92,0.28)"/>
<rect x="799" y="615" width="6" height="1" fill="rgba(235,77,92,0.52)"/>
<rect x="804" y="616" width="1" height="11" fill="rgba(235,77,92,0.52)"/>
<rect x="799" y="616" width="5" height="11" fill="rgba(235,77,92,0.28)"/>
<rect x="805" y="611" width="6" height="1" fill="rgba(235,77,92,0.52)"/>
<rect x="810" y="612" width="1" height="15" fill="rgba(235,77,92,0.52)"/>
<rect x="805" y="612" width="1" height="3" fill="rgba(235,77,92,0.52)"/>
<rect x="806" y="612" width="4" height="15" fill="rgba(235,77,92,0.28)"/>
<rect x="805" y="615" width="1" height="12" fill="rgba(235,77,92,0.28)"/>
<rect x="811" y="621" width="6" height="1" fill="rgba(235,77,92,0.52)"/>
<rect x="816" y="622" width="1" height="5" fill="rgba(235,77,92,0.52)"/>
<rect x="811" y="622" width="5" height="5" fill="rgba(235,77,92,0.28)"/>
<rect x="817" y="616" width="5" height="1" fill="rgba(235,77,92,0.52)"/>
<rect x="821" y="617" width="1" height="10" fill="rgba(235,77,92,0.52)"/>
<rect x="817" y="617" width="1" height="4" fill="rgba(235,77,92,0.52)"/>
<rect x="818" y="617" width="3" height="10" fill="rgba(235,77,92,0.28)"/>
<rect x="817" y="621" width="1" height="6" fill="rgba(235,77,92,0.28)"/>
<rect x="822" y="612" width="6" height="1" fill="rgba(83,185,135,0.55)"/>
<rect x="827" y="613" width="1" height="14" fill="rgba(83,185,135,0.55)"/>
<rect x="822" y="613" width="1" height="3" fill="rgba(83,185,135,0.55)"/>
<rect x="823" y="613" width="4" height="14" fill="rgba(83,185,135,0.30)"/>
<rect x="822" y="616" width="1" height="11" fill="rgba(83,185,135,0.30)"/>
<rect x="828" y="588" width="6" height="1" fill="rgba(83,185,135,0.55)"/>
<rect x="833" y="589" width="1" height="38" fill="rgba(83,185,135,0.55)"/>
<rect x="828" y="589" width="1" height="23" fill="rgba(83,185,135,0.55)"/>
<rect x="829" y="589" width="4" height="38" fill="rgba(83,185,135,0.30)"/>
<rect x="828" y="612" width="1" height="15" fill="rgba(83,185,135,0.30)"/>
<rect x="834" y="587" width="6" height="1" fill="rgba(235,77,92,0.52)"/>
<rect x="839" y="588" width="1" height="39" fill="rgba(235,77,92,0.52)"/>
<rect x="834" y="588" width="5" height="39" fill="rgba(235,77,92,0.28)"/>
<rect x="840" y="602" width="6" height="1" fill="rgba(235,77,92,0.52)"/>
<rect x="845" y="603" width="1" height="24" fill="rgba(235,77,92,0.52)"/>
<rect x="840" y="603" width="5" height="24" fill="rgba(235,77,92,0.28)"/>
<rect x="846" y="598" width="6" height="1" fill="rgba(83,185,135,0.55)"/>
<rect x="851" y="599" width="1" height="28" fill="rgba(83,185,135,0.55)"/>
<rect x="846" y="599" width="1" height="3" fill="rgba(83,185,135,0.55)"/>
<rect x="847" y="599" width="4" height="28" fill="rgba(83,185,135,0.30)"/>
<rect x="846" y="602" width="1" height="25" fill="rgba(83,185,135,0.30)"/>
<rect x="852" y="605" width="5" height="1" fill="rgba(235,77,92,0.52)"/>
<rect x="856" y="606" width="1" height="21" fill="rgba(235,77,92,0.52)"/>
<rect x="852" y="606" width="4" height="21" fill="rgba(235,77,92,0.28)"/>
<rect x="857" y="601" width="6" height="1" fill="rgba(83,185,135,0.55)"/>
<rect x="862" y="602" width="1" height="25" fill="rgba(83,185,135,0.55)"/>
<rect x="857" y="602" width="1" height="3" fill="rgba(83,185,135,0.55)"/>
<rect x="858" y="602" width="4" height="25" fill="rgba(83,185,135,0.30)"/>
<rect x="857" y="605" width="1" height="22" fill="rgba(83,185,135,0.30)"/>
<rect x="863" y="609" width="6" height="1" fill="rgba(83,185,135,0.55)"/>
<rect x="868" y="610" width="1" height="17" fill="rgba(83,185,135,0.55)"/>
<rect x="863" y="610" width="5" height="17" fill="rgba(83,185,135,0.30)"/>
<rect x="869" y="595" width="6" height="1" fill="rgba(235,77,92,0.52)"/>
<rect x="874" y="596" width="1" height="31" fill="rgba(235,77,92,0.52)"/>
<rect x="869" y="596" width="1" height="13" fill="rgba(235,77,92,0.52)"/>
<rect x="870" y="596" width="4" height="31" fill="rgba(235,77,92,0.28)"/>
<rect x="869" y="609" width="1" height="18" fill="rgba(235,77,92,0.28)"/>
<rect x="875" y="608" width="6" height="1" fill="rgba(235,77,92,0.52)"/>
<rect x="880" y="609" width="1" height="18" fill="rgba(235,77,92,0.52)"/>
<rect x="875" y="609" width="5" height="18" fill="rgba(235,77,92,0.28)"/>
<rect x="881" y="581" width="6" height="1" fill="rgba(235,77,92,0.52)"/>
<rect x="886" y="582" width="1" height="45" fill="rgba(235,77,92,0.52)"/>
<rect x="881" y="582" width="1" height="26" fill="rgba(235,77,92,0.52)"/>
<rect x="882" y="582" width="4" height="45" fill="rgba(235,77,92,0.28)"/>
<rect x="881" y="608" width="1" height="19" fill="rgba(235,77,92,0.28)"/>
<rect x="887" y="609" width="5" height="1" fill="rgba(235,77,92,0.52)"/>
<rect x="891" y="610" width="1" height="17" fill="rgba(235,77,92,0.52)"/>
<rect x="887" y="610" width="4" height="17" fill="rgba(235,77,92,0.28)"/>
<rect x="892" y="610" width="6" height="1" fill="rgba(235,77,92,0.52)"/>
<rect x="897" y="611" width="1" height="16" fill="rgba(235,77,92,0.52)"/>
<rect x="892" y="611" width="5" height="16" fill="rgba(235,77,92,0.28)"/>
<rect x="898" y="616" width="6" height="1" fill="rgba(83,185,135,0.55)"/>
<rect x="903" y="617" width="1" height="10" fill="rgba(83,185,135,0.55)"/>
<rect x="898" y="617" width="5" height="10" fill="rgba(83,185,135,0.30)"/>
<rect x="904" y="620" width="6" height="1" fill="rgba(235,77,92,0.52)"/>
<rect x="909" y="621" width="1" height="6" fill="rgba(235,77,92,0.52)"/>
<rect x="904" y="621" width="5" height="6" fill="rgba(235,77,92,0.28)"/>
<rect x="910" y="617" width="6" height="1" fill="rgba(235,77,92,0.52)"/>
<rect x="915" y="618" width="1" height="9" fill="rgba(235,77,92,0.52)"/>
<rect x="910" y="618" width="1" height="2" fill="rgba(235,77,92,0.52)"/>
<rect x="911" y="618" width="4" height="9" fill="rgba(235,77,92,0.28)"/>
<rect x="910" y="620" width="1" height="7" fill="rgba(235,77,92,0.28)"/>
<rect x="916" y="620" width="6" height="1" fill="rgba(83,185,135,0.55)"/>
<rect x="921" y="621" width="1" height="6" fill="rgba(83,185,135,0.55)"/>
<rect x="916" y="621" width="5" height="6" fill="rgba(83,185,135,0.30)"/>
<rect x="922" y="621" width="5" height="1" fill="rgba(235,77,92,0.52)"/>
<rect x="926" y="622" width="1" height="5" fill="rgba(235,77,92,0.52)"/>
<rect x="922" y="622" width="4" height="5" fill="rgba(235,77,92,0.28)"/>
<rect x="927" y="621" width="6" height="1" fill="rgba(235,77,92,0.52)"/>
<rect x="932" y="622" width="1" height="5" fill="rgba(235,77,92,0.52)"/>
<rect x="927" y="622" width="5" height="5" fill="rgba(235,77,92,0.28)"/>
<rect x="933" y="621" width="6" height="1" fill="rgba(83,185,135,0.55)"/>
<rect x="938" y="622" width="1" height="5" fill="rgba(83,185,135,0.55)"/>
<rect x="933" y="622" width="5" height="5" fill="rgba(83,185,135,0.30)"/>
<rect x="939" y="614" width="6" height="1" fill="rgba(83,185,135,0.55)"/>
<rect x="944" y="615" width="1" height="12" fill="rgba(83,185,135,0.55)"/>
<rect x="939" y="615" width="1" height="6" fill="rgba(83,185,135,0.55)"/>
<rect x="940" y="615" width="4" height="12" fill="rgba(83,185,135,0.30)"/>
<rect x="939" y="621" width="1" height="6" fill="rgba(83,185,135,0.30)"/>
<rect x="945" y="614" width="6" height="1" fill="rgba(83,185,135,0.55)"/>
<rect x="950" y="615" width="1" height="12" fill="rgba(83,185,135,0.55)"/>
<rect x="945" y="615" width="5" height="12" fill="rgba(83,185,135,0.30)"/>
<rect x="951" y="617" width="6" height="1" fill="rgba(83,185,135,0.55)"/>
<rect x="956" y="618" width="1" height="9" fill="rgba(83,185,135,0.55)"/>
<rect x="951" y="618" width="5" height="9" fill="rgba(83,185,135,0.30)"/>
<rect x="957" y="610" width="5" height="1" fill="rgba(83,185,135,0.55)"/>
<rect x="961" y="611" width="1" height="16" fill="rgba(83,185,135,0.55)"/>
<rect x="957" y="611" width="1" height="6" fill="rgba(83,185,135,0.55)"/>
<rect x="958" y="611" width="3" height="16" fill="rgba(83,185,135,0.30)"/>
<rect x="957" y="617" width="1" height="10" fill="rgba(83,185,135,0.30)"/>
<rect x="962" y="607" width="6" height="1" fill="rgba(235,77,92,0.52)"/>
<rect x="967" y="608" width="1" height="19" fill="rgba(235,77,92,0.52)"/>
<rect x="962" y="608" width="1" height="2" fill="rgba(235,77,92,0.52)"/>
<rect x="963" y="608" width="4" height="19" fill="rgba(235,77,92,0.28)"/>
<rect x="962" y="610" width="1" height="17" fill="rgba(235,77,92,0.28)"/>
<rect x="968" y="616" width="6" height="1" fill="rgba(235,77,92,0.52)"/>
<rect x="973" y="617" width="1" height="10" fill="rgba(235,77,92,0.52)"/>
<rect x="968" y="617" width="5" height="10" fill="rgba(235,77,92,0.28)"/>
<rect x="974" y="585" width="6" height="1" fill="rgba(83,185,135,0.55)"/>
<rect x="979" y="586" width="1" height="41" fill="rgba(83,185,135,0.55)"/>
<rect x="974" y="586" width="1" height="30" fill="rgba(83,185,135,0.55)"/>
<rect x="975" y="586" width="4" height="41" fill="rgba(83,185,135,0.30)"/>
<rect x="974" y="616" width="1" height="11" fill="rgba(83,185,135,0.30)"/>
<rect x="980" y="572" width="6" height="1" fill="rgba(83,185,135,0.55)"/>
<rect x="985" y="573" width="1" height="54" fill="rgba(83,185,135,0.55)"/>
<rect x="980" y="573" width="1" height="12" fill="rgba(83,185,135,0.55)"/>
<rect x="981" y="573" width="4" height="54" fill="rgba(83,185,135,0.30)"/>
<rect x="980" y="585" width="1" height="42" fill="rgba(83,185,135,0.30)"/>
<rect x="986" y="596" width="6" height="1" fill="rgba(235,77,92,0.52)"/>
<rect x="991" y="597" width="1" height="30" fill="rgba(235,77,92,0.52)"/>
<rect x="986" y="597" width="5" height="30" fill="rgba(235,77,92,0.28)"/>
<rect x="992" y="614" width="5" height="1" fill="rgba(83,185,135,0.55)"/>
<rect x="996" y="615" width="1" height="12" fill="rgba(83,185,135,0.55)"/>
<rect x="992" y="615" width="4" height="12" fill="rgba(83,185,135,0.30)"/>
<rect x="997" y="610" width="6" height="1" fill="rgba(235,77,92,0.52)"/>
<rect x="1002" y="611" width="1" height="16" fill="rgba(235,77,92,0.52)"/>
<rect x="997" y="611" width="1" height="3" fill="rgba(235,77,92,0.52)"/>
<rect x="998" y="611" width="4" height="16" fill="rgba(235,77,92,0.28)"/>
<rect x="997" y="614" width="1" height="13" fill="rgba(235,77,92,0.28)"/>
<rect x="1003" y="613" width="6" height="1" fill="rgba(83,185,135,0.55)"/>
<rect x="1008" y="614" width="1" height="13" fill="rgba(83,185,135,0.55)"/>
<rect x="1003" y="614" width="5" height="13" fill="rgba(83,185,135,0.30)"/>
<rect x="1009" y="611" width="6" height="1" fill="rgba(83,185,135,0.55)"/>
<rect x="1014" y="612" width="1" height="15" fill="rgba(83,185,135,0.55)"/>
<rect x="1009" y="612" width="1" height="1" fill="rgba(83,185,135,0.55)"/>
<rect x="1010" y="612" width="4" height="15" fill="rgba(83,185,135,0.30)"/>
<rect x="1009" y="613" width="1" height="14" fill="rgba(83,185,135,0.30)"/>
<rect x="1015" y="617" width="6" height="1" fill="rgba(83,185,135,0.55)"/>
<rect x="1020" y="618" width="1" height="9" fill="rgba(83,185,135,0.55)"/>
<rect x="1015" y="618" width="5" height="9" fill="rgba(83,185,135,0.30)"/>
<rect x="1021" y="613" width="6" height="1" fill="rgba(235,77,92,0.52)"/>
<rect x="1026" y="614" width="1" height="13" fill="rgba(235,77,92,0.52)"/>
<rect x="1021" y="614" width="1" height="3" fill="rgba(235,77,92,0.52)"/>
<rect x="1022" y="614" width="4" height="13" fill="rgba(235,77,92,0.28)"/>
<rect x="1021" y="617" width="1" height="10" fill="rgba(235,77,92,0.28)"/>
<rect x="1027" y="620" width="5" height="1" fill="rgba(235,77,92,0.52)"/>
<rect x="1031" y="621" width="1" height="6" fill="rgba(235,77,92,0.52)"/>
<rect x="1027" y="621" width="4" height="6" fill="rgba(235,77,92,0.28)"/>
<rect x="1032" y="618" width="6" height="1" fill="rgba(235,77,92,0.52)"/>
<rect x="1037" y="619" width="1" height="8" fill="rgba(235,77,92,0.52)"/>
<rect x="1032" y="619" width="1" height="1" fill="rgba(235,77,92,0.52)"/>
<rect x="1033" y="619" width="4" height="8" fill="rgba(235,77,92,0.28)"/>
<rect x="1032" y="620" width="1" height="7" fill="rgba(235,77,92,0.28)"/>
<rect x="1038" y="622" width="6" height="1" fill="rgba(235,77,92,0.52)"/>
<rect x="1043" y="623" width="1" height="4" fill="rgba(235,77,92,0.52)"/>
<rect x="1038" y="623" width="5" height="4" fill="rgba(235,77,92,0.28)"/>
<rect x="1044" y="622" width="6" height="1" fill="rgba(83,185,135,0.55)"/>
<rect x="1049" y="623" width="1" height="4" fill="rgba(83,185,135,0.55)"/>
<rect x="1044" y="623" width="5" height="4" fill="rgba(83,185,135,0.30)"/>
<rect x="1050" y="622" width="6" height="1" fill="rgba(83,185,135,0.55)"/>
<rect x="1055" y="623" width="1" height="4" fill="rgba(83,185,135,0.55)"/>
<rect x="1050" y="623" width="5" height="4" fill="rgba(83,185,135,0.30)"/>
<rect x="1056" y="622" width="6" height="1" fill="rgba(235,77,92,0.52)"/>
<rect x="1061" y="623" width="1" height="4" fill="rgba(235,77,92,0.52)"/>
<rect x="1056" y="623" width="5" height="4" fill="rgba(235,77,92,0.28)"/>
<rect x="1062" y="618" width="5" height="1" fill="rgba(235,77,92,0.52)"/>
<rect x="1066" y="619" width="1" height="8" fill="rgba(235,77,92,0.52)"/>
<rect x="1062" y="619" width="1" height="3" fill="rgba(235,77,92,0.52)"/>
<rect x="1063" y="619" width="3" height="8" fill="rgba(235,77,92,0.28)"/>
<rect x="1062" y="622" width="1" height="5" fill="rgba(235,77,92,0.28)"/>
<rect x="1067" y="620" width="6" height="1" fill="rgba(83,185,135,0.55)"/>
<rect x="1072" y="621" width="1" height="6" fill="rgba(83,185,135,0.55)"/>
<rect x="1067" y="621" width="5" height="6" fill="rgba(83,185,135,0.30)"/>
<rect x="1073" y="619" width="6" height="1" fill="rgba(235,77,92,0.52)"/>
<rect x="1078" y="620" width="1" height="7" fill="rgba(235,77,92,0.52)"/>
<rect x="1073" y="620" width="5" height="7" fill="rgba(235,77,92,0.28)"/>
<rect x="1079" y="621" width="6" height="1" fill="rgba(235,77,92,0.52)"/>
<rect x="1084" y="622" width="1" height="5" fill="rgba(235,77,92,0.52)"/>
<rect x="1079" y="622" width="5" height="5" fill="rgba(235,77,92,0.28)"/>
<rect x="1085" y="618" width="6" height="1" fill="rgba(235,77,92,0.52)"/>
<rect x="1090" y="619" width="1" height="8" fill="rgba(235,77,92,0.52)"/>
<rect x="1085" y="619" width="1" height="2" fill="rgba(235,77,92,0.52)"/>
<rect x="1086" y="619" width="4" height="8" fill="rgba(235,77,92,0.28)"/>
<rect x="1085" y="621" width="1" height="6" fill="rgba(235,77,92,0.28)"/>
<rect x="1091" y="613" width="6" height="1" fill="rgba(235,77,92,0.52)"/>
<rect x="1096" y="614" width="1" height="13" fill="rgba(235,77,92,0.52)"/>
<rect x="1091" y="614" width="1" height="4" fill="rgba(235,77,92,0.52)"/>
<rect x="1092" y="614" width="4" height="13" fill="rgba(235,77,92,0.28)"/>
<rect x="1091" y="618" width="1" height="9" fill="rgba(235,77,92,0.28)"/>
<rect x="1097" y="619" width="5" height="1" fill="rgba(83,185,135,0.55)"/>
<rect x="1101" y="620" width="1" height="7" fill="rgba(83,185,135,0.55)"/>
<rect x="1097" y="620" width="4" height="7" fill="rgba(83,185,135,0.30)"/>
<rect x="1102" y="620" width="6" height="1" fill="rgba(235,77,92,0.52)"/>
<rect x="1107" y="621" width="1" height="6" fill="rgba(235,77,92,0.52)"/>
<rect x="1102" y="621" width="5" height="6" fill="rgba(235,77,92,0.28)"/>
<rect x="1108" y="614" width="6" height="1" fill="rgba(83,185,135,0.55)"/>
<rect x="1113" y="615" width="1" height="12" fill="rgba(83,185,135,0.55)"/>
<rect x="1108" y="615" width="1" height="5" fill="rgba(83,185,135,0.55)"/>
<rect x="1109" y="615" width="4" height="12" fill="rgba(83,185,135,0.30)"/>
<rect x="1108" y="620" width="1" height="7" fill="rgba(83,185,135,0.30)"/>
<rect x="1114" y="611" width="6" height="1" fill="rgba(235,77,92,0.52)"/>
<rect x="1119" y="612" width="1" height="15" fill="rgba(235,77,92,0.52)"/>
<rect x="1114" y="612" width="1" height="2" fill="rgba(235,77,92,0.52)"/>
<rect x="1115" y="612" width="4" height="15" fill="rgba(235,77,92,0.28)"/>
<rect x="1114" y="614" width="1" height="13" fill="rgba(235,77,92,0.28)"/>
<rect x="1120" y="606" width="6" height="1" fill="rgba(235,77,92,0.52)"/>
<rect x="1125" y="607" width="1" height="20" fill="rgba(235,77,92,0.52)"/>
<rect x="1120" y="607" width="1" height="4" fill="rgba(235,77,92,0.52)"/>
<rect x="1121" y="607" width="4" height="20" fill="rgba(235,77,92,0.28)"/>
<rect x="1120" y="611" width="1" height="16" fill="rgba(235,77,92,0.28)"/>
</g>
<polyline points="2.1,609.6 12.5,607.5 20.8,605.5 29.1,604.0 37.4,605.5 52.0,603.4 62.4,604.4 72.8,603.4 83.2,603.4 91.5,606.1 101.9,607.5 108.2,603.4 113.4,598.6 120.7,598.6 131.9,599.5 141.6,600.5 146.8,599.2 152.7,599.5 158.7,597.3 164.6,596.2 170.6,597.3 182.5,595.3 192.9,595.3 200.3,596.5 209.3,595.3 216.7,595.3 222.6,598.8 228.6,606.2 236.0,607.7 246.5,607.2 256.9,605.5 265.8,606.6 274.7,607.2 283.6,606.2 292.6,607.2 298.9,606.2 309.3,607.2 316.8,606.2 328.7,609.2 337.6,607.2 346.5,606.2 356.9,606.2 368.8,610.2 377.8,610.2 386.7,612.6 392.6,609.2 400.1,610.2 409.0,610.2 420.9,612.6 431.3,610.2 444.7,609.2 456.6,610.2 471.9,610.2 480.8,609.2 489.8,609.2 497.2,610.2 503.1,609.2 509.1,612.6 519.5,612.6 531.4,610.2 540.3,610.2 552.2,612.2 564.1,612.6 579.0,613.2 585.0,614.1 590.9,613.2 602.8,614.7 611.7,615.6 620.7,615.6 628.1,616.6 638.9,617.7 659.8,618.1 671.7,617.1 679.1,618.4 689.5,617.4 711.8,616.6 753.5,616.6 760.9,617.7 781.7,617.4 789.2,614.1 796.6,613.2 811.9,614.1 822.3,614.1 834.2,610.7 847.6,608.1 859.5,606.6 871.4,605.2 881.8,602.5 899.7,602.5 907.1,604.7 922.0,606.2 939.8,606.5 948.8,608.7 960.7,609.6 971.1,610.2 978.9,608.4 992.3,608.4 1002.7,610.2 1014.6,610.2 1022.1,609.2 1028.0,610.2 1034.0,609.2 1041.4,609.5 1050.3,610.2 1066.7,610.2 1077.1,612.2 1087.5,612.9 1096.5,614.4 1103.9,617.4 1114.3,617.4 1121.7,616.3" fill="none" stroke="#ff9d5c" stroke-width="1.05" stroke-linejoin="round"/>
<polyline points="2.0,342.0 10.4,322.7 16.6,299.9 25.0,275.9 35.4,255.1 42.6,246.8 48.9,236.4 60.3,233.9 66.6,234.3 72.8,239.5 83.2,248.9 93.6,255.1 99.9,255.5 106.1,259.3 112.3,266.6 118.6,265.5 124.8,265.5 130.0,258.2 137.3,243.7 148.3,200.8 154.0,180.0 161.2,160.0 168.5,142.7 176.8,117.8 188.2,91.8 194.5,69.9 201.8,48.1 211.1,33.5 215.3,35.0 221.5,42.9 229.9,51.2 235.1,54.3 238.2,64.7 244.4,78.2 252.7,82.4 259.0,85.5 265.2,84.1 272.8,81.0 291.5,83.1 301.9,80.0 308.2,85.2 318.6,102.9 327.8,120.3 334.0,122.5 339.3,119.3 345.0,126.5 351.2,140.6 357.4,149.3 365.2,147.7 374.6,142.1 380.8,149.9 387.1,153.0 394.9,164.0 404.2,182.7 410.5,190.5 416.7,196.7 427.6,213.9 433.9,216.1 440.1,226.4 444.8,230.4 451.0,238.8 457.3,241.0 465.1,248.2 472.9,256.9 479.1,256.0 485.4,259.1 491.6,259.8 497.8,263.8 507.2,273.2 516.6,279.4 522.8,287.2 525.0,290.0 532.3,300.4 540.7,308.7 548.3,311.4 554.6,311.4 561.8,317.7 577.4,317.3 589.9,322.9 602.4,325.4 619.0,324.5 625.3,328.1 633.6,340.6 641.9,346.2 652.3,340.6 660.7,338.9 667.3,339.1 673.5,341.2 678.7,343.3 683.9,340.2 689.1,337.0 694.3,338.7 701.6,340.2 708.9,343.7 717.2,348.5 724.5,354.1 729.7,356.2 737.0,362.0 743.2,368.2 748.4,372.4 753.6,380.7 759.9,387.4 768.2,391.8 777.5,396.3 780.0,396.1 788.0,397.4 796.0,392.1 806.7,385.4 818.8,384.6 824.1,385.9 833.5,391.6 845.5,396.9 852.2,404.1 858.9,413.5 866.9,422.9 876.3,437.6 883.0,444.2 888.3,453.1 897.7,459.5 905.7,462.2 913.7,461.6 924.4,460.8 935.1,459.5 940.5,459.5 947.2,472.3 953.9,477.1 958.6,479.4 964.9,484.6 971.1,490.8 975.3,498.1 979.5,507.4 983.6,513.7 987.8,516.8 996.1,516.8 1004.4,515.4 1010.7,512.6 1014.2,507.4 1021.4,504.3 1029.8,502.9 1039.1,504.3 1047.4,507.0 1054.7,509.9 1064.1,510.6 1074.5,509.5 1082.8,510.6 1093.2,511.0 1101.5,510.1 1109.9,511.0 1116.1,506.4 1121.7,502.2" fill="none" stroke="#1c8c8c" stroke-width="1.15" stroke-linejoin="round"/>
<polyline points="2.1,522.7 8.3,522.2 13.5,519.1 18.7,521.6 25.0,520.8 36.4,513.5 44.7,501.4 48.9,494.4 60.3,467.4 72.8,434.1 83.2,402.9 88.4,388.3 90.0,386.9 94.5,382.5 100.0,381.4 105.6,375.8 108.9,370.2 113.4,363.5 119.0,361.3 124.5,361.3 130.1,363.5 135.7,369.1 142.4,375.8 145.7,385.8 151.3,397.0 158.0,407.0 165.8,409.2 176.9,413.2 182.5,411.5 188.1,407.5 193.6,406.3 200.3,402.5 205.9,396.5 211.5,383.6 217.0,361.3 221.5,339.0 225.9,314.5 231.5,290.0 234.3,277.0 240.6,242.6 246.8,227.0 253.0,222.5 258.2,216.2 262.4,216.6 265.5,219.8 268.6,227.0 274.9,229.1 281.1,226.0 287.4,228.1 293.6,234.3 299.9,243.7 305.1,249.5 312.3,252.4 320.7,253.3 329.0,254.5 334.2,262.9 339.4,277.4 344.6,288.3 350.8,288.9 357.0,295.1 363.3,307.6 368.5,320.1 374.7,333.6 381.0,344.0 390.3,349.2 398.6,351.3 407.0,350.3 417.4,351.3 425.7,354.0 429.9,359.6 431.4,365.3 438.7,377.4 447.0,389.9 454.3,394.0 463.7,397.1 473.0,396.5 480.3,404.0 490.7,410.2 498.0,412.3 507.4,411.1 517.8,408.2 528.2,404.4 538.6,400.9 544.2,401.5 549.4,397.4 554.6,396.3 560.8,384.9 573.3,384.3 581.6,387.4 589.9,387.0 596.2,383.2 608.6,381.1 617.0,385.3 625.3,385.9 631.5,381.5 637.8,380.1 644.0,383.2 652.3,392.6 662.7,400.9 668.3,404.7 677.7,412.0 682.9,421.4 689.1,430.7 697.4,438.0 707.8,445.3 718.2,452.6 730.7,462.4 743.2,460.9 751.5,459.9 759.9,457.1 768.2,459.4 776.2,461.8 782.5,474.3 790.8,485.8 799.1,502.4 807.4,517.0 815.8,533.6 823.7,548.2 830.3,547.1 840.7,551.9 853.2,555.5 863.6,551.9 876.1,551.9 884.4,555.5 892.7,561.7 898.3,563.6 906.6,571.9 915.0,578.2 923.3,584.4 931.6,591.7 939.9,595.9 946.2,591.7 954.5,590.7 962.8,589.0 971.1,587.5 979.5,583.4 985.7,578.2 994.0,574.0 1002.3,573.0 1010.7,572.0 1018.3,574.4 1026.6,570.9 1035.0,566.7 1043.3,559.9 1051.6,552.2 1059.9,548.6 1066.2,546.6 1076.6,545.9 1087.0,544.9 1095.3,545.5 1103.6,545.9 1109.9,548.0 1114.0,552.2 1118.2,558.4 1121.7,562.6" fill="none" stroke="#1c8c8c" stroke-width="1.15" stroke-linejoin="round"/>
<polyline points="2.1,434.5 13.5,418.5 20.8,405.0 31.2,389.4 41.6,377.5 60.3,349.5 68.6,340.0 79.0,326.8 89.5,319.5 99.9,318.2 110.3,315.5 120.7,311.3 133.1,307.1 141.6,304.8 162.4,281.9 189.5,248.6 199.9,228.9 204.2,220.0 220.8,192.3 226.9,180.0 239.5,158.0 247.8,152.4 259.3,150.3 277.0,154.9 282.2,153.9 291.5,157.0 306.1,166.3 320.0,179.6 332.5,193.6 351.2,215.4 366.8,232.6 373.7,240.0 382.0,248.3 396.6,259.8 413.2,272.2 427.8,287.8 431.4,290.0 440.8,305.6 451.2,315.4 459.5,319.1 469.9,324.9 484.5,333.7 491.8,334.3 503.2,340.6 517.8,345.1 532.3,350.3 543.8,356.2 550.4,353.0 562.9,349.9 577.4,351.0 592.0,355.1 606.6,353.0 619.0,355.1 631.5,360.3 644.0,364.5 656.5,368.0 670.4,374.1 680.8,380.8 691.2,388.1 701.6,393.3 712.0,398.5 722.4,405.8 732.8,411.0 743.2,414.5 753.6,420.3 764.0,422.8 774.4,427.0 784.8,434.9 790.8,440.0 799.1,446.2 807.4,450.4 815.8,458.7 824.1,467.0 832.4,469.1 840.7,473.3 849.1,477.9 857.4,483.3 867.8,486.8 878.2,495.1 886.5,502.4 894.8,509.7 900.4,512.6 910.8,518.3 921.2,522.0 931.6,525.1 942.0,528.2 952.4,534.5 962.8,537.6 973.2,541.8 981.5,544.5 991.9,545.3 1002.3,544.9 1010.7,542.8 1020.4,539.7 1030.8,536.2 1041.2,533.4 1051.6,531.4 1062.0,529.9 1072.4,528.7 1082.8,528.2 1093.2,528.2 1103.6,528.7 1114.0,530.3 1121.7,532.4" fill="none" stroke="#8b3a3a" stroke-width="1.15" stroke-linejoin="round"/>
<g shape-rendering="crispEdges">
<rect x="1" y="333" width="1" height="56" fill="#a9cdd3"/>
<rect x="2" y="333" width="2" height="56" fill="#53b987"/>
<rect x="7" y="309" width="1" height="44" fill="#a9cdd3"/>
<rect x="5" y="321" width="5" height="19" fill="#53b987"/>
<rect x="13" y="309" width="1" height="33" fill="#f5a6ae"/>
<rect x="11" y="322" width="5" height="2" fill="#eb4d5c"/>
<rect x="18" y="265" width="1" height="63" fill="#a9cdd3"/>
<rect x="16" y="278" width="5" height="48" fill="#53b987"/>
<rect x="24" y="276" width="1" height="17" fill="#f5a6ae"/>
<rect x="22" y="278" width="5" height="8" fill="#eb4d5c"/>
<rect x="30" y="281" width="1" height="33" fill="#f5a6ae"/>
<rect x="28" y="285" width="5" height="9" fill="#eb4d5c"/>
<rect x="36" y="289" width="1" height="23" fill="#f5a6ae"/>
<rect x="34" y="293" width="5" height="5" fill="#eb4d5c"/>
<rect x="42" y="292" width="1" height="21" fill="#f5a6ae"/>
<rect x="40" y="297" width="5" height="9" fill="#eb4d5c"/>
<rect x="48" y="267" width="1" height="41" fill="#a9cdd3"/>
<rect x="46" y="273" width="5" height="30" fill="#53b987"/>
<rect x="53" y="267" width="1" height="49" fill="#f5a6ae"/>
<rect x="51" y="273" width="5" height="43" fill="#eb4d5c"/>
<rect x="59" y="296" width="1" height="26" fill="#a9cdd3"/>
<rect x="57" y="312" width="5" height="4" fill="#53b987"/>
<rect x="65" y="300" width="1" height="30" fill="#a9cdd3"/>
<rect x="63" y="302" width="5" height="20" fill="#53b987"/>
<rect x="71" y="300" width="1" height="20" fill="#f5a6ae"/>
<rect x="69" y="302" width="5" height="11" fill="#eb4d5c"/>
<rect x="77" y="308" width="1" height="18" fill="#a9cdd3"/>
<rect x="75" y="312" width="5" height="1" fill="#53b987"/>
<rect x="83" y="310" width="1" height="10" fill="#f5a6ae"/>
<rect x="81" y="312" width="5" height="7" fill="#eb4d5c"/>
<rect x="88" y="302" width="1" height="18" fill="#a9cdd3"/>
<rect x="86" y="305" width="5" height="12" fill="#53b987"/>
<rect x="94" y="302" width="1" height="54" fill="#f5a6ae"/>
<rect x="92" y="306" width="5" height="32" fill="#eb4d5c"/>
<rect x="100" y="320" width="1" height="40" fill="#f5a6ae"/>
<rect x="98" y="337" width="5" height="23" fill="#eb4d5c"/>
<rect x="106" y="356" width="1" height="86" fill="#f5a6ae"/>
<rect x="104" y="359" width="5" height="12" fill="#eb4d5c"/>
<rect x="112" y="323" width="1" height="270" fill="#a9cdd3"/>
<rect x="110" y="339" width="5" height="32" fill="#53b987"/>
<rect x="118" y="294" width="1" height="295" fill="#a9cdd3"/>
<rect x="116" y="306" width="5" height="34" fill="#53b987"/>
<rect x="123" y="300" width="1" height="33" fill="#f5a6ae"/>
<rect x="121" y="306" width="5" height="16" fill="#eb4d5c"/>
<rect x="129" y="259" width="1" height="65" fill="#a9cdd3"/>
<rect x="127" y="259" width="5" height="58" fill="#53b987"/>
<rect x="135" y="205" width="1" height="36" fill="#a9cdd3"/>
<rect x="133" y="228" width="5" height="13" fill="#53b987"/>
<rect x="141" y="221" width="1" height="32" fill="#f5a6ae"/>
<rect x="139" y="221" width="5" height="8" fill="#eb4d5c"/>
<rect x="147" y="146" width="1" height="82" fill="#a9cdd3"/>
<rect x="145" y="160" width="5" height="67" fill="#53b987"/>
<rect x="153" y="157" width="1" height="21" fill="#f5a6ae"/>
<rect x="151" y="164" width="5" height="3" fill="#eb4d5c"/>
<rect x="158" y="122" width="1" height="53" fill="#f5a6ae"/>
<rect x="156" y="166" width="5" height="9" fill="#eb4d5c"/>
<rect x="164" y="147" width="1" height="64" fill="#f5a6ae"/>
<rect x="162" y="174" width="5" height="32" fill="#eb4d5c"/>
<rect x="170" y="145" width="1" height="68" fill="#a9cdd3"/>
<rect x="168" y="162" width="5" height="38" fill="#53b987"/>
<rect x="176" y="130" width="1" height="69" fill="#a9cdd3"/>
<rect x="174" y="133" width="5" height="19" fill="#53b987"/>
<rect x="182" y="140" width="1" height="42" fill="#f5a6ae"/>
<rect x="180" y="158" width="5" height="6" fill="#eb4d5c"/>
<rect x="188" y="151" width="1" height="21" fill="#a9cdd3"/>
<rect x="186" y="151" width="5" height="13" fill="#53b987"/>
<rect x="193" y="77" width="1" height="76" fill="#a9cdd3"/>
<rect x="191" y="113" width="5" height="39" fill="#53b987"/>
<rect x="199" y="85" width="1" height="21" fill="#a9cdd3"/>
<rect x="197" y="91" width="5" height="12" fill="#53b987"/>
<rect x="205" y="51" width="1" height="57" fill="#f5a6ae"/>
<rect x="203" y="85" width="5" height="23" fill="#eb4d5c"/>
<rect x="211" y="94" width="1" height="77" fill="#f5a6ae"/>
<rect x="209" y="94" width="5" height="23" fill="#eb4d5c"/>
<rect x="217" y="115" width="1" height="35" fill="#f5a6ae"/>
<rect x="215" y="116" width="5" height="34" fill="#eb4d5c"/>
<rect x="223" y="120" width="1" height="36" fill="#a9cdd3"/>
<rect x="221" y="132" width="5" height="12" fill="#53b987"/>
<rect x="228" y="97" width="1" height="46" fill="#f5a6ae"/>
<rect x="226" y="132" width="5" height="4" fill="#eb4d5c"/>
<rect x="234" y="110" width="1" height="29" fill="#a9cdd3"/>
<rect x="232" y="114" width="5" height="25" fill="#53b987"/>
<rect x="240" y="111" width="1" height="55" fill="#f5a6ae"/>
<rect x="238" y="114" width="5" height="36" fill="#eb4d5c"/>
<rect x="246" y="139" width="1" height="85" fill="#f5a6ae"/>
<rect x="244" y="144" width="5" height="40" fill="#eb4d5c"/>
<rect x="252" y="160" width="1" height="262" fill="#f5a6ae"/>
<rect x="250" y="185" width="5" height="28" fill="#eb4d5c"/>
<rect x="258" y="187" width="1" height="28" fill="#a9cdd3"/>
<rect x="256" y="195" width="5" height="18" fill="#53b987"/>
<rect x="263" y="167" width="1" height="42" fill="#a9cdd3"/>
<rect x="261" y="175" width="5" height="19" fill="#53b987"/>
<rect x="269" y="173" width="1" height="54" fill="#f5a6ae"/>
<rect x="267" y="175" width="5" height="52" fill="#eb4d5c"/>
<rect x="275" y="180" width="1" height="54" fill="#a9cdd3"/>
<rect x="273" y="188" width="5" height="30" fill="#53b987"/>
<rect x="281" y="153" width="1" height="45" fill="#f5a6ae"/>
<rect x="279" y="180" width="5" height="2" fill="#eb4d5c"/>
<rect x="287" y="171" width="1" height="22" fill="#f5a6ae"/>
<rect x="285" y="181" width="5" height="3" fill="#eb4d5c"/>
<rect x="293" y="175" width="1" height="38" fill="#f5a6ae"/>
<rect x="291" y="183" width="5" height="25" fill="#eb4d5c"/>
<rect x="298" y="199" width="1" height="32" fill="#f5a6ae"/>
<rect x="296" y="207" width="5" height="22" fill="#eb4d5c"/>
<rect x="304" y="208" width="1" height="54" fill="#a9cdd3"/>
<rect x="302" y="210" width="5" height="10" fill="#53b987"/>
<rect x="310" y="208" width="1" height="17" fill="#f5a6ae"/>
<rect x="308" y="210" width="5" height="3" fill="#eb4d5c"/>
<rect x="316" y="210" width="1" height="15" fill="#f5a6ae"/>
<rect x="314" y="212" width="5" height="7" fill="#eb4d5c"/>
<rect x="322" y="207" width="1" height="19" fill="#a9cdd3"/>
<rect x="320" y="214" width="5" height="5" fill="#53b987"/>
<rect x="328" y="215" width="1" height="16" fill="#f5a6ae"/>
<rect x="326" y="215" width="5" height="6" fill="#eb4d5c"/>
<rect x="333" y="217" width="1" height="100" fill="#f5a6ae"/>
<rect x="331" y="219" width="5" height="26" fill="#eb4d5c"/>
<rect x="339" y="246" width="1" height="75" fill="#f5a6ae"/>
<rect x="337" y="254" width="5" height="57" fill="#eb4d5c"/>
<rect x="345" y="255" width="1" height="55" fill="#a9cdd3"/>
<rect x="343" y="272" width="5" height="30" fill="#53b987"/>
<rect x="351" y="265" width="1" height="13" fill="#a9cdd3"/>
<rect x="349" y="269" width="5" height="1" fill="#53b987"/>
<rect x="357" y="269" width="1" height="26" fill="#f5a6ae"/>
<rect x="355" y="269" width="5" height="18" fill="#eb4d5c"/>
<rect x="363" y="284" width="1" height="37" fill="#f5a6ae"/>
<rect x="361" y="295" width="5" height="18" fill="#eb4d5c"/>
<rect x="368" y="291" width="1" height="28" fill="#a9cdd3"/>
<rect x="366" y="302" width="5" height="17" fill="#53b987"/>
<rect x="374" y="303" width="1" height="62" fill="#f5a6ae"/>
<rect x="372" y="303" width="5" height="47" fill="#eb4d5c"/>
<rect x="380" y="291" width="1" height="57" fill="#a9cdd3"/>
<rect x="378" y="305" width="5" height="34" fill="#53b987"/>
<rect x="386" y="284" width="1" height="35" fill="#a9cdd3"/>
<rect x="384" y="284" width="5" height="23" fill="#53b987"/>
<rect x="392" y="284" width="1" height="240" fill="#f5a6ae"/>
<rect x="390" y="284" width="5" height="10" fill="#eb4d5c"/>
<rect x="398" y="284" width="1" height="22" fill="#f5a6ae"/>
<rect x="396" y="293" width="5" height="3" fill="#eb4d5c"/>
<rect x="403" y="281" width="1" height="21" fill="#a9cdd3"/>
<rect x="401" y="291" width="5" height="5" fill="#53b987"/>
<rect x="409" y="285" width="1" height="17" fill="#a9cdd3"/>
<rect x="407" y="287" width="5" height="5" fill="#53b987"/>
<rect x="415" y="284" width="1" height="25" fill="#f5a6ae"/>
<rect x="413" y="287" width="5" height="8" fill="#eb4d5c"/>
<rect x="421" y="295" width="1" height="21" fill="#f5a6ae"/>
<rect x="419" y="295" width="5" height="11" fill="#eb4d5c"/>
<rect x="427" y="305" width="1" height="35" fill="#f5a6ae"/>
<rect x="425" y="307" width="5" height="26" fill="#eb4d5c"/>
<rect x="433" y="333" width="1" height="69" fill="#f5a6ae"/>
<rect x="431" y="337" width="5" height="52" fill="#eb4d5c"/>
<rect x="438" y="351" width="1" height="53" fill="#a9cdd3"/>
<rect x="436" y="367" width="5" height="22" fill="#53b987"/>
<rect x="444" y="357" width="1" height="58" fill="#f5a6ae"/>
<rect x="442" y="358" width="5" height="53" fill="#eb4d5c"/>
<rect x="450" y="332" width="1" height="79" fill="#a9cdd3"/>
<rect x="448" y="354" width="5" height="57" fill="#53b987"/>
<rect x="456" y="351" width="1" height="34" fill="#a9cdd3"/>
<rect x="454" y="353" width="5" height="7" fill="#53b987"/>
<rect x="462" y="315" width="1" height="46" fill="#a9cdd3"/>
<rect x="460" y="348" width="5" height="6" fill="#53b987"/>
<rect x="468" y="323" width="1" height="70" fill="#a9cdd3"/>
<rect x="466" y="331" width="5" height="13" fill="#53b987"/>
<rect x="473" y="315" width="1" height="23" fill="#a9cdd3"/>
<rect x="471" y="330" width="5" height="2" fill="#53b987"/>
<rect x="479" y="321" width="1" height="67" fill="#f5a6ae"/>
<rect x="477" y="321" width="5" height="65" fill="#eb4d5c"/>
<rect x="485" y="360" width="1" height="22" fill="#a9cdd3"/>
<rect x="483" y="369" width="5" height="2" fill="#53b987"/>
<rect x="491" y="353" width="1" height="32" fill="#a9cdd3"/>
<rect x="489" y="365" width="5" height="3" fill="#53b987"/>
<rect x="497" y="360" width="1" height="14" fill="#a9cdd3"/>
<rect x="495" y="362" width="5" height="4" fill="#53b987"/>
<rect x="503" y="325" width="1" height="53" fill="#a9cdd3"/>
<rect x="501" y="344" width="5" height="29" fill="#53b987"/>
<rect x="508" y="327" width="1" height="19" fill="#a9cdd3"/>
<rect x="506" y="331" width="5" height="13" fill="#53b987"/>
<rect x="514" y="312" width="1" height="27" fill="#a9cdd3"/>
<rect x="512" y="312" width="5" height="20" fill="#53b987"/>
<rect x="520" y="312" width="1" height="27" fill="#f5a6ae"/>
<rect x="518" y="312" width="5" height="20" fill="#eb4d5c"/>
<rect x="526" y="328" width="1" height="24" fill="#f5a6ae"/>
<rect x="524" y="331" width="5" height="13" fill="#eb4d5c"/>
<rect x="532" y="328" width="1" height="41" fill="#f5a6ae"/>
<rect x="530" y="343" width="5" height="20" fill="#eb4d5c"/>
<rect x="538" y="350" width="1" height="21" fill="#f5a6ae"/>
<rect x="536" y="362" width="5" height="2" fill="#eb4d5c"/>
<rect x="543" y="353" width="1" height="17" fill="#f5a6ae"/>
<rect x="541" y="364" width="5" height="4" fill="#eb4d5c"/>
<rect x="549" y="355" width="1" height="16" fill="#f5a6ae"/>
<rect x="547" y="356" width="5" height="4" fill="#eb4d5c"/>
<rect x="555" y="347" width="1" height="23" fill="#a9cdd3"/>
<rect x="553" y="349" width="5" height="11" fill="#53b987"/>
<rect x="561" y="330" width="1" height="31" fill="#a9cdd3"/>
<rect x="559" y="347" width="5" height="4" fill="#53b987"/>
<rect x="567" y="340" width="1" height="29" fill="#f5a6ae"/>
<rect x="565" y="347" width="5" height="10" fill="#eb4d5c"/>
<rect x="573" y="346" width="1" height="23" fill="#f5a6ae"/>
<rect x="571" y="355" width="5" height="3" fill="#eb4d5c"/>
<rect x="578" y="357" width="1" height="17" fill="#f5a6ae"/>
<rect x="576" y="357" width="5" height="8" fill="#eb4d5c"/>
<rect x="584" y="355" width="1" height="19" fill="#f5a6ae"/>
<rect x="582" y="362" width="5" height="5" fill="#eb4d5c"/>
<rect x="590" y="353" width="1" height="21" fill="#f5a6ae"/>
<rect x="588" y="357" width="5" height="3" fill="#eb4d5c"/>
<rect x="596" y="359" width="1" height="11" fill="#f5a6ae"/>
<rect x="594" y="360" width="5" height="9" fill="#eb4d5c"/>
<rect x="602" y="359" width="1" height="12" fill="#f5a6ae"/>
<rect x="600" y="359" width="5" height="3" fill="#eb4d5c"/>
<rect x="608" y="354" width="1" height="13" fill="#a9cdd3"/>
<rect x="606" y="357" width="5" height="6" fill="#53b987"/>
<rect x="613" y="358" width="1" height="21" fill="#f5a6ae"/>
<rect x="611" y="358" width="5" height="21" fill="#eb4d5c"/>
<rect x="619" y="368" width="1" height="10" fill="#a9cdd3"/>
<rect x="617" y="373" width="5" height="1" fill="#53b987"/>
<rect x="625" y="368" width="1" height="15" fill="#a9cdd3"/>
<rect x="623" y="370" width="5" height="9" fill="#53b987"/>
<rect x="631" y="359" width="1" height="17" fill="#f5a6ae"/>
<rect x="629" y="370" width="5" height="6" fill="#eb4d5c"/>
<rect x="637" y="361" width="1" height="16" fill="#f5a6ae"/>
<rect x="635" y="364" width="5" height="8" fill="#eb4d5c"/>
<rect x="643" y="371" width="1" height="17" fill="#f5a6ae"/>
<rect x="641" y="371" width="5" height="12" fill="#eb4d5c"/>
<rect x="648" y="382" width="1" height="17" fill="#f5a6ae"/>
<rect x="646" y="382" width="5" height="17" fill="#eb4d5c"/>
<rect x="654" y="394" width="1" height="10" fill="#f5a6ae"/>
<rect x="652" y="399" width="5" height="1" fill="#eb4d5c"/>
<rect x="660" y="384" width="1" height="19" fill="#a9cdd3"/>
<rect x="658" y="396" width="5" height="4" fill="#53b987"/>
<rect x="666" y="387" width="1" height="23" fill="#f5a6ae"/>
<rect x="664" y="396" width="5" height="1" fill="#eb4d5c"/>
<rect x="672" y="397" width="1" height="11" fill="#f5a6ae"/>
<rect x="670" y="397" width="5" height="8" fill="#eb4d5c"/>
<rect x="678" y="403" width="1" height="12" fill="#f5a6ae"/>
<rect x="676" y="404" width="5" height="2" fill="#eb4d5c"/>
<rect x="683" y="405" width="1" height="27" fill="#f5a6ae"/>
<rect x="681" y="405" width="5" height="26" fill="#eb4d5c"/>
<rect x="689" y="423" width="1" height="30" fill="#f5a6ae"/>
<rect x="687" y="430" width="5" height="23" fill="#eb4d5c"/>
<rect x="695" y="408" width="1" height="48" fill="#a9cdd3"/>
<rect x="693" y="410" width="5" height="43" fill="#53b987"/>
<rect x="701" y="409" width="1" height="18" fill="#f5a6ae"/>
<rect x="699" y="415" width="5" height="12" fill="#eb4d5c"/>
<rect x="707" y="417" width="1" height="11" fill="#f5a6ae"/>
<rect x="705" y="422" width="5" height="5" fill="#eb4d5c"/>
<rect x="713" y="420" width="1" height="14" fill="#f5a6ae"/>
<rect x="711" y="420" width="5" height="6" fill="#eb4d5c"/>
<rect x="718" y="426" width="1" height="17" fill="#f5a6ae"/>
<rect x="716" y="430" width="5" height="13" fill="#eb4d5c"/>
<rect x="724" y="431" width="1" height="20" fill="#f5a6ae"/>
<rect x="722" y="441" width="5" height="8" fill="#eb4d5c"/>
<rect x="730" y="427" width="1" height="20" fill="#f5a6ae"/>
<rect x="728" y="439" width="5" height="7" fill="#eb4d5c"/>
<rect x="736" y="418" width="1" height="27" fill="#a9cdd3"/>
<rect x="734" y="421" width="5" height="17" fill="#53b987"/>
<rect x="742" y="409" width="1" height="21" fill="#f5a6ae"/>
<rect x="740" y="417" width="5" height="2" fill="#eb4d5c"/>
<rect x="748" y="417" width="1" height="23" fill="#f5a6ae"/>
<rect x="746" y="418" width="5" height="16" fill="#eb4d5c"/>
<rect x="753" y="426" width="1" height="13" fill="#f5a6ae"/>
<rect x="751" y="430" width="5" height="3" fill="#eb4d5c"/>
<rect x="759" y="416" width="1" height="17" fill="#a9cdd3"/>
<rect x="757" y="425" width="5" height="8" fill="#53b987"/>
<rect x="765" y="418" width="1" height="31" fill="#f5a6ae"/>
<rect x="763" y="418" width="5" height="31" fill="#eb4d5c"/>
<rect x="771" y="411" width="1" height="43" fill="#a9cdd3"/>
<rect x="769" y="431" width="5" height="12" fill="#53b987"/>
<rect x="777" y="430" width="1" height="45" fill="#f5a6ae"/>
<rect x="775" y="431" width="5" height="32" fill="#eb4d5c"/>
<rect x="783" y="446" width="1" height="38" fill="#f5a6ae"/>
<rect x="781" y="462" width="5" height="19" fill="#eb4d5c"/>
<rect x="788" y="462" width="1" height="90" fill="#f5a6ae"/>
<rect x="786" y="475" width="5" height="9" fill="#eb4d5c"/>
<rect x="794" y="470" width="1" height="54" fill="#f5a6ae"/>
<rect x="792" y="471" width="5" height="41" fill="#eb4d5c"/>
<rect x="800" y="500" width="1" height="43" fill="#f5a6ae"/>
<rect x="798" y="507" width="5" height="5" fill="#eb4d5c"/>
<rect x="806" y="511" width="1" height="28" fill="#f5a6ae"/>
<rect x="804" y="517" width="5" height="1" fill="#eb4d5c"/>
<rect x="812" y="517" width="1" height="18" fill="#f5a6ae"/>
<rect x="810" y="523" width="5" height="12" fill="#eb4d5c"/>
<rect x="818" y="517" width="1" height="18" fill="#f5a6ae"/>
<rect x="816" y="534" width="5" height="1" fill="#eb4d5c"/>
<rect x="823" y="519" width="1" height="32" fill="#a9cdd3"/>
<rect x="821" y="529" width="5" height="1" fill="#53b987"/>
<rect x="829" y="445" width="1" height="89" fill="#a9cdd3"/>
<rect x="827" y="454" width="5" height="69" fill="#53b987"/>
<rect x="835" y="422" width="1" height="79" fill="#f5a6ae"/>
<rect x="833" y="446" width="5" height="47" fill="#eb4d5c"/>
<rect x="841" y="474" width="1" height="42" fill="#f5a6ae"/>
<rect x="839" y="492" width="5" height="8" fill="#eb4d5c"/>
<rect x="847" y="463" width="1" height="45" fill="#a9cdd3"/>
<rect x="845" y="498" width="5" height="2" fill="#53b987"/>
<rect x="853" y="490" width="1" height="34" fill="#f5a6ae"/>
<rect x="851" y="498" width="5" height="4" fill="#eb4d5c"/>
<rect x="858" y="472" width="1" height="34" fill="#a9cdd3"/>
<rect x="856" y="484" width="5" height="14" fill="#53b987"/>
<rect x="864" y="453" width="1" height="43" fill="#a9cdd3"/>
<rect x="862" y="476" width="5" height="7" fill="#53b987"/>
<rect x="870" y="443" width="1" height="73" fill="#f5a6ae"/>
<rect x="868" y="476" width="5" height="33" fill="#eb4d5c"/>
<rect x="876" y="485" width="1" height="42" fill="#f5a6ae"/>
<rect x="874" y="515" width="5" height="12" fill="#eb4d5c"/>
<rect x="882" y="477" width="1" height="104" fill="#f5a6ae"/>
<rect x="880" y="527" width="5" height="17" fill="#eb4d5c"/>
<rect x="888" y="524" width="1" height="30" fill="#f5a6ae"/>
<rect x="886" y="543" width="5" height="6" fill="#eb4d5c"/>
<rect x="893" y="524" width="1" height="49" fill="#f5a6ae"/>
<rect x="891" y="547" width="5" height="12" fill="#eb4d5c"/>
<rect x="899" y="523" width="1" height="34" fill="#a9cdd3"/>
<rect x="897" y="532" width="5" height="25" fill="#53b987"/>
<rect x="905" y="525" width="1" height="35" fill="#f5a6ae"/>
<rect x="903" y="534" width="5" height="24" fill="#eb4d5c"/>
<rect x="911" y="544" width="1" height="23" fill="#f5a6ae"/>
<rect x="909" y="556" width="5" height="9" fill="#eb4d5c"/>
<rect x="917" y="541" width="1" height="24" fill="#a9cdd3"/>
<rect x="915" y="549" width="5" height="9" fill="#53b987"/>
<rect x="923" y="543" width="1" height="25" fill="#f5a6ae"/>
<rect x="921" y="543" width="5" height="25" fill="#eb4d5c"/>
<rect x="928" y="550" width="1" height="21" fill="#f5a6ae"/>
<rect x="926" y="558" width="5" height="5" fill="#eb4d5c"/>
<rect x="934" y="551" width="1" height="26" fill="#a9cdd3"/>
<rect x="932" y="568" width="5" height="4" fill="#53b987"/>
<rect x="940" y="547" width="1" height="39" fill="#a9cdd3"/>
<rect x="938" y="549" width="5" height="15" fill="#53b987"/>
<rect x="946" y="537" width="1" height="18" fill="#a9cdd3"/>
<rect x="944" y="548" width="5" height="2" fill="#53b987"/>
<rect x="952" y="522" width="1" height="30" fill="#a9cdd3"/>
<rect x="950" y="530" width="5" height="20" fill="#53b987"/>
<rect x="958" y="517" width="1" height="23" fill="#a9cdd3"/>
<rect x="956" y="520" width="5" height="11" fill="#53b987"/>
<rect x="963" y="517" width="1" height="28" fill="#f5a6ae"/>
<rect x="961" y="519" width="5" height="11" fill="#eb4d5c"/>
<rect x="969" y="524" width="1" height="26" fill="#f5a6ae"/>
<rect x="967" y="529" width="5" height="19" fill="#eb4d5c"/>
<rect x="975" y="528" width="1" height="38" fill="#a9cdd3"/>
<rect x="973" y="536" width="5" height="8" fill="#53b987"/>
<rect x="981" y="517" width="1" height="49" fill="#a9cdd3"/>
<rect x="979" y="537" width="5" height="6" fill="#53b987"/>
<rect x="987" y="521" width="1" height="27" fill="#f5a6ae"/>
<rect x="985" y="529" width="5" height="7" fill="#eb4d5c"/>
<rect x="993" y="525" width="1" height="24" fill="#a9cdd3"/>
<rect x="991" y="526" width="5" height="10" fill="#53b987"/>
<rect x="998" y="524" width="1" height="27" fill="#f5a6ae"/>
<rect x="996" y="530" width="5" height="8" fill="#eb4d5c"/>
<rect x="1004" y="525" width="1" height="26" fill="#a9cdd3"/>
<rect x="1002" y="533" width="5" height="5" fill="#53b987"/>
<rect x="1010" y="509" width="1" height="33" fill="#a9cdd3"/>
<rect x="1008" y="526" width="5" height="8" fill="#53b987"/>
<rect x="1016" y="504" width="1" height="26" fill="#a9cdd3"/>
<rect x="1014" y="506" width="5" height="15" fill="#53b987"/>
<rect x="1022" y="505" width="1" height="21" fill="#f5a6ae"/>
<rect x="1020" y="514" width="5" height="3" fill="#eb4d5c"/>
<rect x="1028" y="506" width="1" height="21" fill="#f5a6ae"/>
<rect x="1026" y="508" width="5" height="8" fill="#eb4d5c"/>
<rect x="1033" y="513" width="1" height="26" fill="#f5a6ae"/>
<rect x="1031" y="513" width="5" height="20" fill="#eb4d5c"/>
<rect x="1039" y="530" width="1" height="15" fill="#f5a6ae"/>
<rect x="1037" y="534" width="5" height="3" fill="#eb4d5c"/>
<rect x="1045" y="520" width="1" height="26" fill="#a9cdd3"/>
<rect x="1043" y="530" width="5" height="7" fill="#53b987"/>
<rect x="1051" y="515" width="1" height="21" fill="#a9cdd3"/>
<rect x="1049" y="526" width="5" height="5" fill="#53b987"/>
<rect x="1057" y="520" width="1" height="12" fill="#f5a6ae"/>
<rect x="1055" y="526" width="5" height="4" fill="#eb4d5c"/>
<rect x="1063" y="521" width="1" height="17" fill="#f5a6ae"/>
<rect x="1061" y="524" width="5" height="4" fill="#eb4d5c"/>
<rect x="1068" y="513" width="1" height="17" fill="#a9cdd3"/>
<rect x="1066" y="522" width="5" height="6" fill="#53b987"/>
<rect x="1074" y="512" width="1" height="20" fill="#f5a6ae"/>
<rect x="1072" y="522" width="5" height="2" fill="#eb4d5c"/>
<rect x="1080" y="508" width="1" height="23" fill="#f5a6ae"/>
<rect x="1078" y="514" width="5" height="11" fill="#eb4d5c"/>
<rect x="1086" y="521" width="1" height="23" fill="#f5a6ae"/>
<rect x="1084" y="525" width="5" height="15" fill="#eb4d5c"/>
<rect x="1092" y="535" width="1" height="14" fill="#f5a6ae"/>
<rect x="1090" y="539" width="5" height="2" fill="#eb4d5c"/>
<rect x="1098" y="525" width="1" height="26" fill="#a9cdd3"/>
<rect x="1096" y="540" width="5" height="1" fill="#53b987"/>
<rect x="1103" y="533" width="1" height="11" fill="#f5a6ae"/>
<rect x="1101" y="533" width="5" height="5" fill="#eb4d5c"/>
<rect x="1109" y="535" width="1" height="18" fill="#a9cdd3"/>
<rect x="1107" y="535" width="5" height="2" fill="#53b987"/>
<rect x="1115" y="535" width="1" height="33" fill="#f5a6ae"/>
<rect x="1113" y="538" width="5" height="30" fill="#eb4d5c"/>
<rect x="1121" y="552" width="1" height="24" fill="#f5a6ae"/>
<rect x="1119" y="568" width="5" height="2" fill="#eb4d5c"/>
</g>
<line x1="2" x2="1154" y1="569.5" y2="569.5" stroke="#eb4d5c" stroke-width="1" stroke-dasharray="1.5,1.5" shape-rendering="crispEdges"/>
<g shape-rendering="crispEdges" fill="#555555">
<rect x="1154" y="2" width="1" height="627"/>
<rect x="2" y="628" width="1153" height="1"/>
<rect x="1155" y="29" width="3" height="1"/>
<rect x="1155" y="60" width="3" height="1"/>
<rect x="1155" y="91" width="3" height="1"/>
<rect x="1155" y="122" width="3" height="1"/>
<rect x="1155" y="153" width="3" height="1"/>
<rect x="1155" y="184" width="3" height="1"/>
<rect x="1155" y="216" width="3" height="1"/>
<rect x="1155" y="247" width="3" height="1"/>
<rect x="1155" y="278" width="3" height="1"/>
<rect x="1155" y="309" width="3" height="1"/>
<rect x="1155" y="340" width="3" height="1"/>
<rect x="1155" y="371" width="3" height="1"/>
<rect x="1155" y="402" width="3" height="1"/>
<rect x="1155" y="433" width="3" height="1"/>
<rect x="1155" y="464" width="3" height="1"/>
<rect x="1155" y="496" width="3" height="1"/>
<rect x="1155" y="527" width="3" height="1"/>
<rect x="1155" y="558" width="3" height="1"/>
<rect x="1155" y="589" width="3" height="1"/>
<rect x="1155" y="620" width="3" height="1"/>
<rect x="60" y="629" width="1" height="3"/>
<rect x="200" y="629" width="1" height="3"/>
<rect x="340" y="629" width="1" height="3"/>
<rect x="480" y="629" width="1" height="3"/>
<rect x="620" y="629" width="1" height="3"/>
<rect x="760" y="629" width="1" height="3"/>
<rect x="900" y="629" width="1" height="3"/>
<rect x="1040" y="629" width="1" height="3"/>
<rect x="1145" y="629" width="1" height="3"/>
</g>
<g font-family="Liberation Sans, Arial, sans-serif" font-size="11px" fill="#555555">
<text x="1161" y="34.0">0.060000</text>
<text x="1161" y="65.1">0.059000</text>
<text x="1161" y="96.2">0.058000</text>
<text x="1161" y="127.3">0.057000</text>
<text x="1161" y="158.4">0.056000</text>
<text x="1161" y="189.5">0.055000</text>
<text x="1161" y="220.6">0.054000</text>
<text x="1161" y="251.7">0.053000</text>
<text x="1161" y="282.8">0.052000</text>
<text x="1161" y="313.9">0.051000</text>
<text x="1161" y="345.0">0.050000</text>
<text x="1161" y="376.1">0.049000</text>
<text x="1161" y="407.2">0.048000</text>
<text x="1161" y="438.3">0.047000</text>
<text x="1161" y="469.4">0.046000</text>
<text x="1161" y="500.5">0.045000</text>
<text x="1161" y="531.6">0.044000</text>
<text x="1161" y="562.7">0.043000</text>
<text x="1161" y="593.8">0.042000</text>
<text x="1161" y="624.9">0.041000</text>
<text x="60.5" y="643" text-anchor="middle">24</text>
<text x="200.5" y="643" text-anchor="middle">25</text>
<text x="340.5" y="643" text-anchor="middle">26</text>
<text x="480.5" y="643" text-anchor="middle">27</text>
<text x="620.5" y="643" text-anchor="middle">28</text>
<text x="760.5" y="643" text-anchor="middle">29</text>
<text x="900.5" y="643" text-anchor="middle">30</text>
<text x="1040.5" y="643" text-anchor="middle" font-weight="bold">Dec</text>
<text x="1132.5" y="643">18:0</text>
</g>
<rect x="1154" y="562" width="56" height="16" fill="#eb4d5c" shape-rendering="crispEdges"/>
<rect x="1155" y="569" width="2" height="1" fill="#fff" shape-rendering="crispEdges"/>
<text x="1161" y="574" font-family="Liberation Sans, Arial, sans-serif" font-size="11px" font-weight="bold" fill="#fff">0.042640</text>
<rect x="1176" y="579" width="34" height="16" fill="#eb4d5c" shape-rendering="crispEdges"/>
<text x="1179" y="591" font-family="Liberation Sans, Arial, sans-serif" font-size="11px" font-weight="bold" fill="#fff">00:41</text>
</svg>
<div style="position:absolute;left:0;top:0;width:1210px;height:1px;background:#f1f3f7;border-bottom:1px solid #d9dce0"></div>
<div style="position:absolute;left:0;top:0;width:1px;height:670px;background:#f1f3f7;border-right:1px solid #d9dce0"></div>
<div style="position:absolute;left:0;top:0;width:2px;height:1px;background:#f1f3f7;"></div>
<svg style="position:absolute;left:7px;top:14.5px" width="13" height="13" viewBox="0 0 13 13"><rect x="0.6" y="0.6" width="11.8" height="11.3" rx="1.2" fill="#fff" stroke="#4a4a4a" stroke-width="1.2"/><line x1="3" y1="6.3" x2="10" y2="6.3" stroke="#4a4a4a" stroke-width="1.2"/></svg>
<div class="t" id="w1" style="left:27px;top:13.5px;font-size:16px;color:#4a4a4a;-webkit-text-stroke:0.25px #4a4a4a;letter-spacing:0.35px;">Ethereum</div>
<div class="t" id="w2" style="left:107.6px;top:13.5px;font-size:16px;color:#4a4a4a;-webkit-text-stroke:0.25px #4a4a4a;transform:scaleX(1.3);transform-origin:0 0;">/</div>
<div class="t" id="w3" style="left:119.2px;top:13.5px;font-size:16px;color:#4a4a4a;-webkit-text-stroke:0.25px #4a4a4a;letter-spacing:0.7px;">Bitcoin,</div>
<div class="t" id="w4" style="left:183px;top:13.5px;font-size:16px;color:#4a4a4a;-webkit-text-stroke:0.25px #4a4a4a;">60,</div>
<div class="t" id="w5" style="left:212px;top:13.5px;font-size:16px;color:#4a4a4a;-webkit-text-stroke:0.25px #4a4a4a;transform:scaleX(0.885);transform-origin:0 0;">BITSTAMP</div>
<svg style="position:absolute;left:288px;top:19px" width="8" height="5" viewBox="0 0 8 5"><polygon points="0,0 8,0 4,4.5" fill="#c8c8c8"/></svg>
<svg style="position:absolute;left:306px;top:14px" width="14" height="14" viewBox="0 0 14 14"><rect width="14" height="14" fill="#d9d9d9"/><path d="M1.6,7 Q7,0.6 12.4,7 Q7,13.4 1.6,7Z" fill="#fff"/><circle cx="7" cy="7" r="2.7" fill="#d9d9d9"/><circle cx="7" cy="7" r="1.35" fill="#fff"/></svg>
<svg style="position:absolute;left:323px;top:14px" width="14" height="14" viewBox="0 0 14 14"><rect width="14" height="14" fill="#d9d9d9"/><g stroke="#fff" stroke-width="2"><line x1="7" y1="2" x2="7" y2="12"/><line x1="2" y1="7" x2="12" y2="7"/><line x1="3.5" y1="3.5" x2="10.5" y2="10.5"/><line x1="10.5" y1="3.5" x2="3.5" y2="10.5"/></g><circle cx="7" cy="7" r="3.3" fill="#fff"/><circle cx="7" cy="7" r="1.9" fill="#d9d9d9"/></svg>
<div class="t" style="left:346px;top:13.2px;font-size:15.2px;color:#4a4a4a;transform:scaleX(0.88);transform-origin:0 0;">O</div>
<div class="t" style="left:358px;top:13.9px;font-size:14.8px;color:#e8475a;transform:scaleX(0.966);transform-origin:0 0;">0.042680</div>
<div class="t" style="left:427px;top:13.2px;font-size:15.2px;color:#4a4a4a;transform:scaleX(0.88);transform-origin:0 0;">H</div>
<div class="t" style="left:438px;top:13.9px;font-size:14.8px;color:#e8475a;transform:scaleX(0.966);transform-origin:0 0;">0.043200</div>
<div class="t" style="left:508.5px;top:13.2px;font-size:15.2px;color:#4a4a4a;transform:scaleX(0.88);transform-origin:0 0;">L</div>
<div class="t" style="left:517.5px;top:13.9px;font-size:14.8px;color:#e8475a;transform:scaleX(0.966);transform-origin:0 0;">0.042426</div>
<div class="t" style="left:586px;top:13.2px;font-size:15.2px;color:#4a4a4a;transform:scaleX(0.88);transform-origin:0 0;">C</div>
<div class="t" style="left:596.5px;top:13.9px;font-size:14.8px;color:#e8475a;transform:scaleX(0.966);transform-origin:0 0;">0.042640</div>
<div class="t" id="vol" style="left:7px;top:36px;font-size:12px;color:#4a4a4a;">Vol (20)</div>
<svg style="position:absolute;left:52px;top:40px" width="8" height="5" viewBox="0 0 8 5"><polygon points="0,0 8,0 4,4.5" fill="#c8c8c8"/></svg>
<svg style="position:absolute;left:70px;top:35px" width="14" height="14" viewBox="0 0 14 14"><rect width="14" height="14" fill="#d9d9d9"/><path d="M1.6,7 Q7,0.6 12.4,7 Q7,13.4 1.6,7Z" fill="#fff"/><circle cx="7" cy="7" r="2.7" fill="#d9d9d9"/><circle cx="7" cy="7" r="1.35" fill="#fff"/></svg>
<svg style="position:absolute;left:87px;top:35px" width="14" height="14" viewBox="0 0 14 14"><rect width="14" height="14" fill="#d9d9d9"/><g stroke="#fff" stroke-width="2"><line x1="7" y1="2" x2="7" y2="12"/><line x1="2" y1="7" x2="12" y2="7"/><line x1="3.5" y1="3.5" x2="10.5" y2="10.5"/><line x1="10.5" y1="3.5" x2="3.5" y2="10.5"/></g><circle cx="7" cy="7" r="3.3" fill="#fff"/><circle cx="7" cy="7" r="1.9" fill="#d9d9d9"/></svg>
<svg style="position:absolute;left:104px;top:35px" width="14" height="14" viewBox="0 0 14 14"><rect width="14" height="14" fill="#d9d9d9"/><g stroke="#fff" stroke-width="2.2"><line x1="7" y1="2.6" x2="7" y2="11.4"/><line x1="2.6" y1="7" x2="11.4" y2="7"/></g></svg>
<svg style="position:absolute;left:121px;top:35px" width="14" height="14" viewBox="0 0 14 14"><rect width="14" height="14" fill="#d9d9d9"/><g stroke="#fff" stroke-width="1.7"><line x1="2.8" y1="2.8" x2="11.2" y2="11.2"/><line x1="11.2" y1="2.8" x2="2.8" y2="11.2"/></g></svg>
<div class="t" style="left:144px;top:36px;font-size:12px;color:#e8475a;">1K</div>
<div class="t" style="left:167px;top:36px;font-size:12px;color:#ff8c3c;">599</div>
<div class="t" id="bb" style="left:7px;top:56px;font-size:12px;color:#4a4a4a;">BB (20, close, 2)</div>
<svg style="position:absolute;left:99px;top:60px" width="8" height="5" viewBox="0 0 8 5"><polygon points="0,0 8,0 4,4.5" fill="#c8c8c8"/></svg>
<svg style="position:absolute;left:117px;top:55px" width="14" height="14" viewBox="0 0 14 14"><rect width="14" height="14" fill="#d9d9d9"/><path d="M1.6,7 Q7,0.6 12.4,7 Q7,13.4 1.6,7Z" fill="#fff"/><circle cx="7" cy="7" r="2.7" fill="#d9d9d9"/><circle cx="7" cy="7" r="1.35" fill="#fff"/></svg>
<svg style="position:absolute;left:134px;top:55px" width="14" height="14" viewBox="0 0 14 14"><rect width="14" height="14" fill="#d9d9d9"/><g stroke="#fff" stroke-width="2"><line x1="7" y1="2" x2="7" y2="12"/><line x1="2" y1="7" x2="12" y2="7"/><line x1="3.5" y1="3.5" x2="10.5" y2="10.5"/><line x1="10.5" y1="3.5" x2="3.5" y2="10.5"/></g><circle cx="7" cy="7" r="3.3" fill="#fff"/><circle cx="7" cy="7" r="1.9" fill="#d9d9d9"/></svg>
<svg style="position:absolute;left:151px;top:55px" width="14" height="14" viewBox="0 0 14 14"><rect width="14" height="14" fill="#d9d9d9"/><g stroke="#fff" stroke-width="2.2"><line x1="7" y1="2.6" x2="7" y2="11.4"/><line x1="2.6" y1="7" x2="11.4" y2="7"/></g></svg>
<svg style="position:absolute;left:168px;top:55px" width="14" height="14" viewBox="0 0 14 14"><rect width="14" height="14" fill="#d9d9d9"/><g stroke="#fff" stroke-width="1.7"><line x1="2.8" y1="2.8" x2="11.2" y2="11.2"/><line x1="11.2" y1="2.8" x2="2.8" y2="11.2"/></g></svg>
<div class="t" style="left:191px;top:56px;font-size:12px;color:#8b2a2a;">0.0438</div>
<div class="t" style="left:236.5px;top:56px;font-size:12px;color:#1c8080;">0.0448</div>
<div class="t" style="left:282px;top:56px;font-size:12px;color:#1c8080;">0.0429</div>
<div class="bar"></div><div class="bb"></div>
<div class="sep" style="left:40px"></div>
<div class="sep" style="left:79px"></div>
<div class="sep" style="left:121px"></div>
<div class="sep" style="left:163px"></div>
<div class="sep" style="left:204px"></div>
<div class="sep" style="left:251px"></div>
<div class="sep" style="left:289px"></div>
<div class="sep" style="left:328px"></div>
<div class="sep" style="left:367px"></div>
<div class="sep" style="left:1004px"></div>
<div class="sep" style="left:1047px"></div>
<div class="sep" style="left:1080px"></div>
<div class="sep" style="left:1121px"></div>
<div class="sep" style="left:1170px"></div>
<div class="btn " style="left:21.5px;transform:translateX(-50%);">1d</div>
<div class="btn " style="left:60px;transform:translateX(-50%);">5d</div>
<div class="btn " style="left:101px;transform:translateX(-50%);">1m</div>
<div class="btn " style="left:142px;transform:translateX(-50%);">3m</div>
<div class="btn " style="left:184px;transform:translateX(-50%);">6m</div>
<div class="btn " style="left:228.5px;transform:translateX(-50%);">YTD</div>
<div class="btn " style="left:271.5px;transform:translateX(-50%);">1y</div>
<div class="btn " style="left:309.5px;transform:translateX(-50%);">5y</div>
<div class="btn " style="left:348px;transform:translateX(-50%);">All</div>
<div class="btn " style="left:400.5px;transform:translateX(-50%);">Go to...</div>
<div class="btn " style="left:952.5px;transform:translateX(-50%);">14:59:18 (UTC)</div>
<div class="btn rg" style="left:1026px;transform:translateX(-50%);">ext</div>
<div class="btn rg" style="left:1064px;transform:translateX(-50%);">%</div>
<div class="btn rg" style="left:1101.5px;transform:translateX(-50%);">log</div>
<div class="btn rg" style="left:1147px;transform:translateX(-50%);color:#4aa8e0;">auto</div>
<svg style="position:absolute;left:1184px;top:651px" width="14" height="14" viewBox="0 0 14 14"><g stroke="#808080" stroke-width="1.8" stroke-linecap="butt"><line x1="7" y1="0.8" x2="7" y2="13.2"/><line x1="0.8" y1="7" x2="13.2" y2="7"/><line x1="2.6" y1="2.6" x2="11.4" y2="11.4"/><line x1="11.4" y1="2.6" x2="2.6" y2="11.4"/></g><circle cx="7" cy="7" r="4" fill="#e2e3e6" stroke="#808080" stroke-width="1.6"/></svg>
</body></html>
